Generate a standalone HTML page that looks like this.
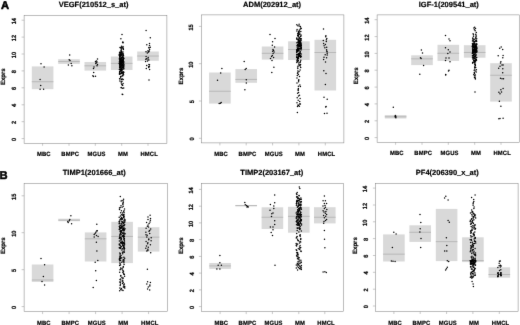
<!DOCTYPE html>
<html><head><meta charset="utf-8"><title>Figure</title>
<style>html,body{margin:0;padding:0;background:#fff;overflow:hidden}body{width:520px;height:325px;font-family:"Liberation Sans",sans-serif}</style></head>
<body>
<svg width="520" height="325" viewBox="0 0 520 325" style="display:block">
<rect width="520" height="325" fill="#fff"/>
<defs><filter id="bl" color-interpolation-filters="sRGB" x="-2%" y="-2%" width="104%" height="104%"><feConvolveMatrix order="3" kernelMatrix="0.0049 0.0602 0.0049 0.0602 0.7396 0.0602 0.0049 0.0602 0.0049" edgeMode="duplicate" preserveAlpha="false"/></filter></defs>
<g filter="url(#bl)" font-family="Liberation Sans, sans-serif" font-weight="bold" text-rendering="geometricPrecision" fill="#000" stroke="#000" stroke-width="0.18">
<rect x="31.8" y="66.4" width="21.6" height="22.8" fill="#d9d9d9" stroke="none"/>
<rect x="31.8" y="81.30" width="21.6" height="0.9" fill="#b4b4b4" stroke="none"/>
<rect x="58.2" y="59.2" width="21.6" height="4.7" fill="#d9d9d9" stroke="none"/>
<rect x="58.2" y="61.16" width="21.6" height="0.9" fill="#b4b4b4" stroke="none"/>
<rect x="84.5" y="62.0" width="21.6" height="8.6" fill="#d9d9d9" stroke="none"/>
<rect x="84.5" y="65.39" width="21.6" height="0.9" fill="#b4b4b4" stroke="none"/>
<rect x="110.9" y="56.5" width="21.6" height="13.5" fill="#d9d9d9" stroke="none"/>
<rect x="110.9" y="62.86" width="21.6" height="0.9" fill="#b4b4b4" stroke="none"/>
<rect x="137.2" y="51.5" width="21.6" height="9.3" fill="#d9d9d9" stroke="none"/>
<rect x="137.2" y="55.58" width="21.6" height="0.9" fill="#b4b4b4" stroke="none"/>
<rect x="24.1" y="15.6" width="142.8" height="127.7" fill="none" stroke="#7c7c7c" stroke-width="0.5"/>
<line x1="21.6" y1="138.6" x2="24.1" y2="138.6" stroke="#909090" stroke-width="0.5"/>
<text transform="translate(16.4,139.3) rotate(-90) scale(0.92,1)" text-anchor="middle" font-size="6.2">0</text>
<line x1="21.6" y1="121.7" x2="24.1" y2="121.7" stroke="#909090" stroke-width="0.5"/>
<text transform="translate(16.4,122.4) rotate(-90) scale(0.92,1)" text-anchor="middle" font-size="6.2">2</text>
<line x1="21.6" y1="104.8" x2="24.1" y2="104.8" stroke="#909090" stroke-width="0.5"/>
<text transform="translate(16.4,105.5) rotate(-90) scale(0.92,1)" text-anchor="middle" font-size="6.2">4</text>
<line x1="21.6" y1="87.8" x2="24.1" y2="87.8" stroke="#909090" stroke-width="0.5"/>
<text transform="translate(16.4,88.5) rotate(-90) scale(0.92,1)" text-anchor="middle" font-size="6.2">6</text>
<line x1="21.6" y1="70.9" x2="24.1" y2="70.9" stroke="#909090" stroke-width="0.5"/>
<text transform="translate(16.4,71.6) rotate(-90) scale(0.92,1)" text-anchor="middle" font-size="6.2">8</text>
<line x1="21.6" y1="54.0" x2="24.1" y2="54.0" stroke="#909090" stroke-width="0.5"/>
<text transform="translate(15.8,55.0) rotate(-90) scale(0.92,1)" text-anchor="middle" font-size="6.2">10</text>
<line x1="21.6" y1="37.1" x2="24.1" y2="37.1" stroke="#909090" stroke-width="0.5"/>
<text transform="translate(15.8,38.1) rotate(-90) scale(0.92,1)" text-anchor="middle" font-size="6.2">12</text>
<line x1="21.6" y1="20.2" x2="24.1" y2="20.2" stroke="#909090" stroke-width="0.5"/>
<text transform="translate(15.8,21.2) rotate(-90) scale(0.92,1)" text-anchor="middle" font-size="6.2">14</text>
<line x1="42.6" y1="143.3" x2="42.6" y2="145.8" stroke="#909090" stroke-width="0.5"/>
<text transform="translate(43.8,155.7) scale(0.95,1)" text-anchor="middle" font-size="6.2" letter-spacing="0.1">MBC</text>
<line x1="69.0" y1="143.3" x2="69.0" y2="145.8" stroke="#909090" stroke-width="0.5"/>
<text transform="translate(70.2,155.7) scale(0.95,1)" text-anchor="middle" font-size="6.2" letter-spacing="0.1">BMPC</text>
<line x1="95.3" y1="143.3" x2="95.3" y2="145.8" stroke="#909090" stroke-width="0.5"/>
<text transform="translate(96.5,155.7) scale(0.95,1)" text-anchor="middle" font-size="6.2" letter-spacing="0.1">MGUS</text>
<line x1="121.7" y1="143.3" x2="121.7" y2="145.8" stroke="#909090" stroke-width="0.5"/>
<text transform="translate(122.9,155.7) scale(0.95,1)" text-anchor="middle" font-size="6.2" letter-spacing="0.1">MM</text>
<line x1="148.0" y1="143.3" x2="148.0" y2="145.8" stroke="#909090" stroke-width="0.5"/>
<text transform="translate(149.2,155.7) scale(0.95,1)" text-anchor="middle" font-size="6.2" letter-spacing="0.1">HMCL</text>
<text transform="translate(5.3,76.7) rotate(-90) scale(0.98,1)" text-anchor="middle" font-size="6.2">Exprs</text>
<text x="93.6" y="6.8" text-anchor="middle" font-size="7.5" fill="#000">VEGF(210512_s_at)</text>
<g fill="#000" stroke="none"><circle cx="41.0" cy="63.8" r="0.74"/><circle cx="44.1" cy="67.1" r="0.74"/><circle cx="40.1" cy="79.5" r="0.74"/><circle cx="40.7" cy="85.5" r="0.74"/><circle cx="40.1" cy="89.2" r="0.74"/><circle cx="43.6" cy="89.2" r="0.74"/><circle cx="69.7" cy="54.9" r="0.74"/><circle cx="69.2" cy="59.7" r="0.74"/><circle cx="70.0" cy="60.5" r="0.74"/><circle cx="71.2" cy="63.5" r="0.74"/><circle cx="68.4" cy="65.1" r="0.74"/><circle cx="71.9" cy="65.8" r="0.74"/><circle cx="97.5" cy="58.9" r="0.74"/><circle cx="95.5" cy="61.5" r="0.74"/><circle cx="97.0" cy="62.0" r="0.74"/><circle cx="96.2" cy="62.8" r="0.74"/><circle cx="97.5" cy="64.6" r="0.74"/><circle cx="97.0" cy="65.8" r="0.74"/><circle cx="94.0" cy="66.9" r="0.74"/><circle cx="93.5" cy="68.5" r="0.74"/><circle cx="93.7" cy="72.6" r="0.74"/><circle cx="92.9" cy="75.7" r="0.74"/><circle cx="93.5" cy="76.6" r="0.74"/><circle cx="95.5" cy="76.2" r="0.74"/><circle cx="96.5" cy="61.0" r="0.74"/><circle cx="95.8" cy="63.5" r="0.74"/><circle cx="122.3" cy="66.0" r="0.74"/><circle cx="119.7" cy="57.9" r="0.74"/><circle cx="119.6" cy="73.1" r="0.74"/><circle cx="121.7" cy="65.6" r="0.74"/><circle cx="119.7" cy="52.3" r="0.74"/><circle cx="119.8" cy="60.7" r="0.74"/><circle cx="119.9" cy="80.9" r="0.74"/><circle cx="120.4" cy="54.3" r="0.74"/><circle cx="122.0" cy="81.2" r="0.74"/><circle cx="121.2" cy="81.7" r="0.74"/><circle cx="123.3" cy="60.1" r="0.74"/><circle cx="120.7" cy="63.8" r="0.74"/><circle cx="120.8" cy="60.0" r="0.74"/><circle cx="123.1" cy="59.1" r="0.74"/><circle cx="122.3" cy="57.4" r="0.74"/><circle cx="121.1" cy="50.6" r="0.74"/><circle cx="119.6" cy="66.9" r="0.74"/><circle cx="120.3" cy="64.4" r="0.74"/><circle cx="120.8" cy="68.0" r="0.74"/><circle cx="122.0" cy="73.4" r="0.74"/><circle cx="123.0" cy="71.9" r="0.74"/><circle cx="122.6" cy="60.7" r="0.74"/><circle cx="121.8" cy="62.8" r="0.74"/><circle cx="123.4" cy="49.5" r="0.74"/><circle cx="123.9" cy="64.4" r="0.74"/><circle cx="119.9" cy="71.9" r="0.74"/><circle cx="120.0" cy="78.8" r="0.74"/><circle cx="121.6" cy="54.6" r="0.74"/><circle cx="122.9" cy="48.1" r="0.74"/><circle cx="122.0" cy="59.5" r="0.74"/><circle cx="122.5" cy="56.8" r="0.74"/><circle cx="122.1" cy="69.8" r="0.74"/><circle cx="123.2" cy="73.5" r="0.74"/><circle cx="123.7" cy="68.9" r="0.74"/><circle cx="119.6" cy="78.7" r="0.74"/><circle cx="122.6" cy="60.8" r="0.74"/><circle cx="123.1" cy="83.4" r="0.74"/><circle cx="122.4" cy="65.6" r="0.74"/><circle cx="119.5" cy="53.1" r="0.74"/><circle cx="119.9" cy="69.5" r="0.74"/><circle cx="119.6" cy="61.8" r="0.74"/><circle cx="120.5" cy="62.7" r="0.74"/><circle cx="121.1" cy="68.8" r="0.74"/><circle cx="121.4" cy="60.3" r="0.74"/><circle cx="121.9" cy="66.4" r="0.74"/><circle cx="123.3" cy="48.8" r="0.74"/><circle cx="120.6" cy="76.4" r="0.74"/><circle cx="123.4" cy="71.9" r="0.74"/><circle cx="123.8" cy="58.2" r="0.74"/><circle cx="120.4" cy="59.5" r="0.74"/><circle cx="120.4" cy="58.0" r="0.74"/><circle cx="120.6" cy="77.3" r="0.74"/><circle cx="119.4" cy="62.0" r="0.74"/><circle cx="122.0" cy="72.2" r="0.74"/><circle cx="123.7" cy="58.4" r="0.74"/><circle cx="122.2" cy="68.0" r="0.74"/><circle cx="122.5" cy="75.2" r="0.74"/><circle cx="122.9" cy="41.9" r="0.74"/><circle cx="123.4" cy="55.8" r="0.74"/><circle cx="121.2" cy="60.2" r="0.74"/><circle cx="119.8" cy="73.4" r="0.74"/><circle cx="119.7" cy="65.8" r="0.74"/><circle cx="120.3" cy="66.1" r="0.74"/><circle cx="119.6" cy="58.3" r="0.74"/><circle cx="119.4" cy="55.1" r="0.74"/><circle cx="121.0" cy="60.5" r="0.74"/><circle cx="119.5" cy="59.3" r="0.74"/><circle cx="120.0" cy="53.0" r="0.74"/><circle cx="120.5" cy="73.7" r="0.74"/><circle cx="119.9" cy="69.1" r="0.74"/><circle cx="123.3" cy="55.1" r="0.74"/><circle cx="121.6" cy="51.5" r="0.74"/><circle cx="119.7" cy="63.8" r="0.74"/><circle cx="120.6" cy="55.5" r="0.74"/><circle cx="123.2" cy="57.5" r="0.74"/><circle cx="123.7" cy="62.1" r="0.74"/><circle cx="121.8" cy="61.4" r="0.74"/><circle cx="119.5" cy="55.3" r="0.74"/><circle cx="121.8" cy="52.8" r="0.74"/><circle cx="122.6" cy="42.4" r="0.74"/><circle cx="120.6" cy="66.1" r="0.74"/><circle cx="122.9" cy="67.6" r="0.74"/><circle cx="121.8" cy="58.6" r="0.74"/><circle cx="120.4" cy="61.6" r="0.74"/><circle cx="123.1" cy="72.6" r="0.74"/><circle cx="123.1" cy="42.7" r="0.74"/><circle cx="123.1" cy="65.3" r="0.74"/><circle cx="121.7" cy="63.8" r="0.74"/><circle cx="121.0" cy="70.9" r="0.74"/><circle cx="120.6" cy="60.8" r="0.74"/><circle cx="120.5" cy="62.9" r="0.74"/><circle cx="121.4" cy="72.7" r="0.74"/><circle cx="123.7" cy="88.1" r="0.74"/><circle cx="121.0" cy="65.3" r="0.74"/><circle cx="120.3" cy="61.9" r="0.74"/><circle cx="120.3" cy="55.9" r="0.74"/><circle cx="123.2" cy="79.5" r="0.74"/><circle cx="121.6" cy="79.3" r="0.74"/><circle cx="119.7" cy="74.2" r="0.74"/><circle cx="122.4" cy="78.9" r="0.74"/><circle cx="122.8" cy="47.7" r="0.74"/><circle cx="121.5" cy="73.2" r="0.74"/><circle cx="120.9" cy="55.2" r="0.74"/><circle cx="123.0" cy="46.5" r="0.74"/><circle cx="121.2" cy="52.9" r="0.74"/><circle cx="123.7" cy="65.2" r="0.74"/><circle cx="119.9" cy="64.3" r="0.74"/><circle cx="120.0" cy="69.7" r="0.74"/><circle cx="120.0" cy="47.5" r="0.74"/><circle cx="123.2" cy="74.1" r="0.74"/><circle cx="121.0" cy="47.9" r="0.74"/><circle cx="121.9" cy="65.2" r="0.74"/><circle cx="123.8" cy="62.1" r="0.74"/><circle cx="122.3" cy="62.0" r="0.74"/><circle cx="121.3" cy="87.6" r="0.74"/><circle cx="123.4" cy="67.4" r="0.74"/><circle cx="120.5" cy="60.0" r="0.74"/><circle cx="120.7" cy="69.8" r="0.74"/><circle cx="120.5" cy="62.5" r="0.74"/><circle cx="121.3" cy="49.3" r="0.74"/><circle cx="121.0" cy="47.5" r="0.74"/><circle cx="121.5" cy="46.3" r="0.74"/><circle cx="121.3" cy="83.1" r="0.74"/><circle cx="123.6" cy="74.8" r="0.74"/><circle cx="121.8" cy="76.3" r="0.74"/><circle cx="119.4" cy="63.4" r="0.74"/><circle cx="119.4" cy="69.6" r="0.74"/><circle cx="123.0" cy="60.8" r="0.74"/><circle cx="122.7" cy="57.7" r="0.74"/><circle cx="121.9" cy="52.7" r="0.74"/><circle cx="121.9" cy="69.2" r="0.74"/><circle cx="123.0" cy="52.0" r="0.74"/><circle cx="120.5" cy="52.7" r="0.74"/><circle cx="120.6" cy="54.9" r="0.74"/><circle cx="121.9" cy="61.6" r="0.74"/><circle cx="122.8" cy="75.8" r="0.74"/><circle cx="122.2" cy="53.5" r="0.74"/><circle cx="121.7" cy="69.3" r="0.74"/><circle cx="121.4" cy="79.5" r="0.74"/><circle cx="121.8" cy="64.5" r="0.74"/><circle cx="122.6" cy="88.3" r="0.74"/><circle cx="123.4" cy="59.8" r="0.74"/><circle cx="121.9" cy="55.6" r="0.74"/><circle cx="123.7" cy="66.2" r="0.74"/><circle cx="119.9" cy="60.2" r="0.74"/><circle cx="121.4" cy="68.2" r="0.74"/><circle cx="119.7" cy="56.3" r="0.74"/><circle cx="122.4" cy="59.9" r="0.74"/><circle cx="120.1" cy="58.5" r="0.74"/><circle cx="122.6" cy="85.3" r="0.74"/><circle cx="123.4" cy="66.4" r="0.74"/><circle cx="123.8" cy="68.3" r="0.74"/><circle cx="121.2" cy="58.3" r="0.74"/><circle cx="123.2" cy="60.7" r="0.74"/><circle cx="121.7" cy="57.4" r="0.74"/><circle cx="120.9" cy="53.8" r="0.74"/><circle cx="122.7" cy="60.2" r="0.74"/><circle cx="119.4" cy="54.6" r="0.74"/><circle cx="119.4" cy="74.1" r="0.74"/><circle cx="120.9" cy="67.1" r="0.74"/><circle cx="119.6" cy="72.3" r="0.74"/><circle cx="123.9" cy="72.2" r="0.74"/><circle cx="119.8" cy="56.6" r="0.74"/><circle cx="122.9" cy="63.6" r="0.74"/><circle cx="120.6" cy="60.3" r="0.74"/><circle cx="123.5" cy="55.7" r="0.74"/><circle cx="123.1" cy="55.3" r="0.74"/><circle cx="123.6" cy="63.6" r="0.74"/><circle cx="122.0" cy="57.3" r="0.74"/><circle cx="119.6" cy="64.7" r="0.74"/><circle cx="122.5" cy="67.7" r="0.74"/><circle cx="123.7" cy="67.0" r="0.74"/><circle cx="122.3" cy="61.5" r="0.74"/><circle cx="123.3" cy="61.9" r="0.74"/><circle cx="119.7" cy="67.5" r="0.74"/><circle cx="120.9" cy="55.7" r="0.74"/><circle cx="121.9" cy="72.1" r="0.74"/><circle cx="119.9" cy="55.8" r="0.74"/><circle cx="121.8" cy="67.0" r="0.74"/><circle cx="120.1" cy="62.9" r="0.74"/><circle cx="119.6" cy="58.2" r="0.74"/><circle cx="120.8" cy="60.6" r="0.74"/><circle cx="122.8" cy="54.6" r="0.74"/><circle cx="120.2" cy="66.4" r="0.74"/><circle cx="120.9" cy="51.2" r="0.74"/><circle cx="119.4" cy="55.3" r="0.74"/><circle cx="122.7" cy="62.4" r="0.74"/><circle cx="121.5" cy="69.8" r="0.74"/><circle cx="123.6" cy="65.5" r="0.74"/><circle cx="121.3" cy="48.0" r="0.74"/><circle cx="121.6" cy="51.2" r="0.74"/><circle cx="121.7" cy="57.9" r="0.74"/><circle cx="122.5" cy="72.4" r="0.74"/><circle cx="123.2" cy="53.7" r="0.74"/><circle cx="122.6" cy="64.4" r="0.74"/><circle cx="120.9" cy="70.4" r="0.74"/><circle cx="119.6" cy="71.4" r="0.74"/><circle cx="122.8" cy="60.5" r="0.74"/><circle cx="120.5" cy="60.4" r="0.74"/><circle cx="123.2" cy="61.0" r="0.74"/><circle cx="123.4" cy="59.5" r="0.74"/><circle cx="120.5" cy="67.4" r="0.74"/><circle cx="120.7" cy="70.9" r="0.74"/><circle cx="121.4" cy="69.3" r="0.74"/><circle cx="120.6" cy="61.7" r="0.74"/><circle cx="121.9" cy="70.1" r="0.74"/><circle cx="120.8" cy="62.3" r="0.74"/><circle cx="121.1" cy="63.6" r="0.74"/><circle cx="121.5" cy="62.9" r="0.74"/><circle cx="121.7" cy="70.4" r="0.74"/><circle cx="119.4" cy="63.4" r="0.74"/><circle cx="121.2" cy="63.7" r="0.74"/><circle cx="119.5" cy="58.7" r="0.74"/><circle cx="120.4" cy="54.4" r="0.74"/><circle cx="122.0" cy="62.0" r="0.74"/><circle cx="122.0" cy="34.5" r="0.74"/><circle cx="120.9" cy="38.8" r="0.74"/><circle cx="122.7" cy="94.6" r="0.74"/><circle cx="122.2" cy="94.2" r="0.74"/><circle cx="121.2" cy="87.8" r="0.74"/><circle cx="122.5" cy="85.3" r="0.74"/><circle cx="121.8" cy="84.5" r="0.74"/><circle cx="146.1" cy="30.4" r="0.74"/><circle cx="150.3" cy="37.8" r="0.74"/><circle cx="149.5" cy="43.5" r="0.74"/><circle cx="150.3" cy="47.3" r="0.74"/><circle cx="149.0" cy="80.0" r="0.74"/><circle cx="149.5" cy="45.5" r="0.74"/><circle cx="148.8" cy="60.0" r="0.74"/><circle cx="147.5" cy="61.1" r="0.74"/><circle cx="146.3" cy="68.6" r="0.74"/><circle cx="145.8" cy="59.3" r="0.74"/><circle cx="149.6" cy="69.4" r="0.74"/><circle cx="149.1" cy="48.1" r="0.74"/><circle cx="149.5" cy="64.8" r="0.74"/><circle cx="148.0" cy="50.8" r="0.74"/><circle cx="149.6" cy="49.5" r="0.74"/><circle cx="148.4" cy="52.1" r="0.74"/><circle cx="148.9" cy="47.4" r="0.74"/><circle cx="146.7" cy="65.4" r="0.74"/><circle cx="147.3" cy="52.9" r="0.74"/><circle cx="146.1" cy="56.5" r="0.74"/><circle cx="148.6" cy="51.8" r="0.74"/><circle cx="148.6" cy="66.7" r="0.74"/><circle cx="145.6" cy="61.5" r="0.74"/><circle cx="149.4" cy="66.3" r="0.74"/><circle cx="148.2" cy="57.5" r="0.74"/><circle cx="148.8" cy="67.4" r="0.74"/><circle cx="146.8" cy="44.7" r="0.74"/><circle cx="146.0" cy="51.8" r="0.74"/><circle cx="146.6" cy="58.7" r="0.74"/><circle cx="148.0" cy="58.9" r="0.74"/><circle cx="148.9" cy="64.5" r="0.74"/><circle cx="149.3" cy="50.9" r="0.74"/></g>
<rect x="209.1" y="72.5" width="21.6" height="31.1" fill="#d9d9d9" stroke="none"/>
<rect x="209.1" y="90.78" width="21.6" height="0.9" fill="#b4b4b4" stroke="none"/>
<rect x="235.4" y="69.1" width="21.6" height="13.7" fill="#d9d9d9" stroke="none"/>
<rect x="235.4" y="78.92" width="21.6" height="0.9" fill="#b4b4b4" stroke="none"/>
<rect x="261.8" y="46.5" width="21.6" height="13.1" fill="#d9d9d9" stroke="none"/>
<rect x="261.8" y="52.81" width="21.6" height="0.9" fill="#b4b4b4" stroke="none"/>
<rect x="288.1" y="41.3" width="21.6" height="18.7" fill="#d9d9d9" stroke="none"/>
<rect x="288.1" y="49.08" width="21.6" height="0.9" fill="#b4b4b4" stroke="none"/>
<rect x="314.5" y="39.8" width="21.6" height="50.7" fill="#d9d9d9" stroke="none"/>
<rect x="314.5" y="52.06" width="21.6" height="0.9" fill="#b4b4b4" stroke="none"/>
<rect x="201.4" y="14.9" width="142.5" height="128.0" fill="none" stroke="#7c7c7c" stroke-width="0.5"/>
<line x1="198.9" y1="138.3" x2="201.4" y2="138.3" stroke="#909090" stroke-width="0.5"/>
<text transform="translate(193.7,139.0) rotate(-90) scale(0.92,1)" text-anchor="middle" font-size="6.2">0</text>
<line x1="198.9" y1="101.0" x2="201.4" y2="101.0" stroke="#909090" stroke-width="0.5"/>
<text transform="translate(193.7,101.7) rotate(-90) scale(0.92,1)" text-anchor="middle" font-size="6.2">5</text>
<line x1="198.9" y1="63.7" x2="201.4" y2="63.7" stroke="#909090" stroke-width="0.5"/>
<text transform="translate(193.1,64.7) rotate(-90) scale(0.92,1)" text-anchor="middle" font-size="6.2">10</text>
<line x1="198.9" y1="26.4" x2="201.4" y2="26.4" stroke="#909090" stroke-width="0.5"/>
<text transform="translate(193.1,27.4) rotate(-90) scale(0.92,1)" text-anchor="middle" font-size="6.2">15</text>
<line x1="219.9" y1="142.9" x2="219.9" y2="145.4" stroke="#909090" stroke-width="0.5"/>
<text transform="translate(221.1,155.7) scale(0.95,1)" text-anchor="middle" font-size="6.2" letter-spacing="0.1">MBC</text>
<line x1="246.2" y1="142.9" x2="246.2" y2="145.4" stroke="#909090" stroke-width="0.5"/>
<text transform="translate(247.4,155.7) scale(0.95,1)" text-anchor="middle" font-size="6.2" letter-spacing="0.1">BMPC</text>
<line x1="272.6" y1="142.9" x2="272.6" y2="145.4" stroke="#909090" stroke-width="0.5"/>
<text transform="translate(273.8,155.7) scale(0.95,1)" text-anchor="middle" font-size="6.2" letter-spacing="0.1">MGUS</text>
<line x1="298.9" y1="142.9" x2="298.9" y2="145.4" stroke="#909090" stroke-width="0.5"/>
<text transform="translate(300.1,155.7) scale(0.95,1)" text-anchor="middle" font-size="6.2" letter-spacing="0.1">MM</text>
<line x1="325.3" y1="142.9" x2="325.3" y2="145.4" stroke="#909090" stroke-width="0.5"/>
<text transform="translate(326.5,155.7) scale(0.95,1)" text-anchor="middle" font-size="6.2" letter-spacing="0.1">HMCL</text>
<text transform="translate(182.6,76.1) rotate(-90) scale(0.98,1)" text-anchor="middle" font-size="6.2">Exprs</text>
<text x="272.1" y="6.8" text-anchor="middle" font-size="7.5" fill="#000">ADM(202912_at)</text>
<g fill="#000" stroke="none"><circle cx="221.9" cy="68.5" r="0.74"/><circle cx="220.7" cy="72.9" r="0.74"/><circle cx="217.5" cy="80.3" r="0.74"/><circle cx="219.2" cy="103.6" r="0.74"/><circle cx="221.2" cy="102.6" r="0.74"/><circle cx="220.4" cy="103.2" r="0.74"/><circle cx="244.2" cy="61.6" r="0.74"/><circle cx="246.2" cy="68.5" r="0.74"/><circle cx="245.2" cy="69.4" r="0.74"/><circle cx="246.3" cy="79.8" r="0.74"/><circle cx="246.3" cy="82.9" r="0.74"/><circle cx="244.9" cy="89.7" r="0.74"/><circle cx="270.0" cy="34.5" r="0.74"/><circle cx="275.0" cy="38.6" r="0.74"/><circle cx="272.6" cy="41.7" r="0.74"/><circle cx="272.3" cy="45.2" r="0.74"/><circle cx="274.6" cy="47.0" r="0.74"/><circle cx="273.0" cy="49.5" r="0.74"/><circle cx="273.6" cy="50.5" r="0.74"/><circle cx="272.6" cy="51.3" r="0.74"/><circle cx="274.1" cy="52.0" r="0.74"/><circle cx="272.3" cy="55.5" r="0.74"/><circle cx="270.5" cy="58.6" r="0.74"/><circle cx="273.6" cy="57.4" r="0.74"/><circle cx="272.0" cy="60.6" r="0.74"/><circle cx="273.9" cy="67.3" r="0.74"/><circle cx="271.8" cy="72.4" r="0.74"/><circle cx="273.1" cy="53.5" r="0.74"/><circle cx="271.6" cy="56.5" r="0.74"/><circle cx="297.0" cy="60.7" r="0.74"/><circle cx="297.3" cy="59.5" r="0.74"/><circle cx="298.1" cy="49.2" r="0.74"/><circle cx="299.3" cy="30.3" r="0.74"/><circle cx="297.9" cy="44.8" r="0.74"/><circle cx="299.7" cy="48.5" r="0.74"/><circle cx="298.0" cy="54.7" r="0.74"/><circle cx="299.0" cy="64.5" r="0.74"/><circle cx="297.2" cy="61.0" r="0.74"/><circle cx="300.8" cy="46.0" r="0.74"/><circle cx="301.0" cy="39.1" r="0.74"/><circle cx="300.4" cy="36.5" r="0.74"/><circle cx="301.1" cy="47.4" r="0.74"/><circle cx="297.6" cy="57.2" r="0.74"/><circle cx="301.0" cy="46.0" r="0.74"/><circle cx="297.3" cy="45.2" r="0.74"/><circle cx="299.1" cy="34.5" r="0.74"/><circle cx="300.4" cy="43.1" r="0.74"/><circle cx="299.0" cy="50.5" r="0.74"/><circle cx="297.7" cy="35.6" r="0.74"/><circle cx="300.8" cy="60.2" r="0.74"/><circle cx="296.7" cy="51.3" r="0.74"/><circle cx="298.9" cy="48.6" r="0.74"/><circle cx="297.3" cy="57.8" r="0.74"/><circle cx="298.2" cy="45.9" r="0.74"/><circle cx="296.7" cy="57.4" r="0.74"/><circle cx="300.1" cy="29.2" r="0.74"/><circle cx="300.9" cy="45.8" r="0.74"/><circle cx="299.9" cy="53.6" r="0.74"/><circle cx="298.4" cy="41.2" r="0.74"/><circle cx="298.5" cy="54.1" r="0.74"/><circle cx="298.3" cy="33.9" r="0.74"/><circle cx="298.6" cy="48.9" r="0.74"/><circle cx="297.1" cy="49.3" r="0.74"/><circle cx="300.5" cy="45.3" r="0.74"/><circle cx="297.8" cy="54.6" r="0.74"/><circle cx="297.5" cy="50.1" r="0.74"/><circle cx="298.4" cy="35.5" r="0.74"/><circle cx="300.4" cy="26.4" r="0.74"/><circle cx="299.6" cy="55.1" r="0.74"/><circle cx="299.2" cy="26.0" r="0.74"/><circle cx="300.0" cy="62.5" r="0.74"/><circle cx="298.7" cy="31.5" r="0.74"/><circle cx="300.1" cy="43.2" r="0.74"/><circle cx="296.9" cy="54.4" r="0.74"/><circle cx="300.9" cy="56.0" r="0.74"/><circle cx="298.2" cy="40.0" r="0.74"/><circle cx="298.0" cy="39.7" r="0.74"/><circle cx="297.8" cy="50.9" r="0.74"/><circle cx="299.2" cy="54.1" r="0.74"/><circle cx="298.5" cy="56.6" r="0.74"/><circle cx="297.6" cy="45.5" r="0.74"/><circle cx="300.8" cy="43.0" r="0.74"/><circle cx="300.8" cy="56.7" r="0.74"/><circle cx="301.2" cy="48.6" r="0.74"/><circle cx="297.5" cy="54.6" r="0.74"/><circle cx="297.1" cy="46.9" r="0.74"/><circle cx="297.7" cy="51.5" r="0.74"/><circle cx="297.8" cy="44.7" r="0.74"/><circle cx="300.1" cy="70.0" r="0.74"/><circle cx="298.5" cy="58.7" r="0.74"/><circle cx="298.4" cy="60.5" r="0.74"/><circle cx="298.2" cy="41.8" r="0.74"/><circle cx="301.1" cy="40.4" r="0.74"/><circle cx="297.2" cy="45.4" r="0.74"/><circle cx="300.6" cy="64.5" r="0.74"/><circle cx="297.6" cy="49.1" r="0.74"/><circle cx="298.5" cy="49.9" r="0.74"/><circle cx="298.7" cy="40.4" r="0.74"/><circle cx="300.7" cy="27.9" r="0.74"/><circle cx="296.8" cy="55.0" r="0.74"/><circle cx="300.8" cy="31.5" r="0.74"/><circle cx="298.8" cy="45.2" r="0.74"/><circle cx="298.5" cy="49.0" r="0.74"/><circle cx="300.9" cy="48.9" r="0.74"/><circle cx="301.1" cy="38.7" r="0.74"/><circle cx="297.8" cy="68.4" r="0.74"/><circle cx="299.1" cy="43.8" r="0.74"/><circle cx="299.8" cy="44.7" r="0.74"/><circle cx="299.6" cy="32.1" r="0.74"/><circle cx="300.2" cy="55.2" r="0.74"/><circle cx="296.8" cy="62.4" r="0.74"/><circle cx="300.2" cy="45.0" r="0.74"/><circle cx="299.6" cy="46.0" r="0.74"/><circle cx="297.8" cy="50.7" r="0.74"/><circle cx="299.6" cy="43.3" r="0.74"/><circle cx="297.0" cy="50.5" r="0.74"/><circle cx="299.1" cy="54.0" r="0.74"/><circle cx="297.7" cy="58.4" r="0.74"/><circle cx="299.4" cy="54.3" r="0.74"/><circle cx="298.8" cy="39.3" r="0.74"/><circle cx="301.1" cy="48.2" r="0.74"/><circle cx="298.8" cy="63.1" r="0.74"/><circle cx="297.7" cy="67.1" r="0.74"/><circle cx="299.9" cy="48.3" r="0.74"/><circle cx="298.9" cy="49.6" r="0.74"/><circle cx="299.8" cy="46.6" r="0.74"/><circle cx="299.7" cy="56.3" r="0.74"/><circle cx="300.9" cy="44.6" r="0.74"/><circle cx="298.2" cy="48.4" r="0.74"/><circle cx="298.6" cy="45.9" r="0.74"/><circle cx="300.3" cy="51.8" r="0.74"/><circle cx="300.0" cy="55.6" r="0.74"/><circle cx="301.1" cy="56.4" r="0.74"/><circle cx="298.1" cy="49.0" r="0.74"/><circle cx="297.7" cy="45.3" r="0.74"/><circle cx="300.1" cy="56.1" r="0.74"/><circle cx="298.9" cy="56.5" r="0.74"/><circle cx="298.6" cy="45.7" r="0.74"/><circle cx="299.7" cy="41.4" r="0.74"/><circle cx="298.5" cy="42.8" r="0.74"/><circle cx="297.6" cy="50.8" r="0.74"/><circle cx="296.9" cy="42.7" r="0.74"/><circle cx="296.9" cy="49.8" r="0.74"/><circle cx="300.7" cy="67.5" r="0.74"/><circle cx="300.0" cy="33.9" r="0.74"/><circle cx="298.2" cy="49.2" r="0.74"/><circle cx="300.1" cy="38.4" r="0.74"/><circle cx="296.8" cy="24.7" r="0.74"/><circle cx="298.4" cy="54.4" r="0.74"/><circle cx="298.2" cy="58.2" r="0.74"/><circle cx="297.9" cy="48.4" r="0.74"/><circle cx="298.3" cy="48.0" r="0.74"/><circle cx="301.1" cy="43.3" r="0.74"/><circle cx="297.6" cy="50.4" r="0.74"/><circle cx="300.4" cy="61.7" r="0.74"/><circle cx="298.6" cy="32.5" r="0.74"/><circle cx="298.4" cy="36.7" r="0.74"/><circle cx="300.9" cy="44.9" r="0.74"/><circle cx="300.8" cy="45.0" r="0.74"/><circle cx="296.8" cy="38.8" r="0.74"/><circle cx="300.2" cy="66.1" r="0.74"/><circle cx="296.8" cy="37.9" r="0.74"/><circle cx="300.9" cy="44.9" r="0.74"/><circle cx="297.8" cy="47.9" r="0.74"/><circle cx="298.2" cy="49.2" r="0.74"/><circle cx="297.9" cy="72.7" r="0.74"/><circle cx="297.9" cy="33.8" r="0.74"/><circle cx="299.9" cy="52.9" r="0.74"/><circle cx="296.7" cy="52.4" r="0.74"/><circle cx="300.1" cy="40.6" r="0.74"/><circle cx="301.0" cy="35.1" r="0.74"/><circle cx="296.8" cy="56.7" r="0.74"/><circle cx="301.1" cy="47.5" r="0.74"/><circle cx="301.0" cy="36.1" r="0.74"/><circle cx="298.6" cy="55.2" r="0.74"/><circle cx="298.9" cy="43.2" r="0.74"/><circle cx="300.3" cy="42.4" r="0.74"/><circle cx="300.0" cy="51.9" r="0.74"/><circle cx="299.4" cy="40.3" r="0.74"/><circle cx="298.2" cy="66.1" r="0.74"/><circle cx="300.2" cy="53.3" r="0.74"/><circle cx="297.0" cy="39.2" r="0.74"/><circle cx="297.8" cy="42.7" r="0.74"/><circle cx="296.9" cy="31.1" r="0.74"/><circle cx="298.1" cy="34.9" r="0.74"/><circle cx="301.2" cy="45.8" r="0.74"/><circle cx="297.9" cy="71.0" r="0.74"/><circle cx="298.9" cy="44.4" r="0.74"/><circle cx="299.9" cy="46.2" r="0.74"/><circle cx="298.6" cy="56.5" r="0.74"/><circle cx="299.5" cy="46.1" r="0.74"/><circle cx="300.5" cy="57.3" r="0.74"/><circle cx="299.7" cy="65.3" r="0.74"/><circle cx="298.0" cy="33.2" r="0.74"/><circle cx="299.3" cy="34.0" r="0.74"/><circle cx="297.6" cy="61.6" r="0.74"/><circle cx="297.8" cy="35.7" r="0.74"/><circle cx="300.7" cy="48.6" r="0.74"/><circle cx="299.3" cy="42.3" r="0.74"/><circle cx="301.2" cy="54.0" r="0.74"/><circle cx="299.0" cy="38.8" r="0.74"/><circle cx="299.7" cy="46.4" r="0.74"/><circle cx="301.2" cy="28.6" r="0.74"/><circle cx="300.4" cy="38.6" r="0.74"/><circle cx="300.5" cy="41.2" r="0.74"/><circle cx="298.0" cy="46.0" r="0.74"/><circle cx="297.2" cy="50.4" r="0.74"/><circle cx="299.3" cy="37.6" r="0.74"/><circle cx="300.6" cy="39.0" r="0.74"/><circle cx="298.7" cy="53.4" r="0.74"/><circle cx="301.0" cy="50.0" r="0.74"/><circle cx="297.1" cy="29.4" r="0.74"/><circle cx="297.7" cy="61.6" r="0.74"/><circle cx="298.3" cy="57.6" r="0.74"/><circle cx="297.5" cy="106.6" r="0.74"/><circle cx="298.0" cy="104.9" r="0.74"/><circle cx="299.6" cy="104.1" r="0.74"/><circle cx="297.0" cy="102.7" r="0.74"/><circle cx="299.7" cy="101.5" r="0.74"/><circle cx="298.2" cy="100.2" r="0.74"/><circle cx="300.1" cy="98.6" r="0.74"/><circle cx="297.2" cy="97.8" r="0.74"/><circle cx="298.5" cy="96.0" r="0.74"/><circle cx="299.5" cy="95.2" r="0.74"/><circle cx="297.6" cy="93.3" r="0.74"/><circle cx="298.6" cy="92.5" r="0.74"/><circle cx="298.2" cy="90.5" r="0.74"/><circle cx="298.2" cy="89.6" r="0.74"/><circle cx="298.4" cy="88.5" r="0.74"/><circle cx="300.4" cy="86.6" r="0.74"/><circle cx="298.4" cy="86.2" r="0.74"/><circle cx="299.9" cy="84.9" r="0.74"/><circle cx="297.0" cy="82.9" r="0.74"/><circle cx="298.6" cy="81.7" r="0.74"/><circle cx="298.6" cy="80.4" r="0.74"/><circle cx="298.8" cy="79.8" r="0.74"/><circle cx="297.0" cy="78.1" r="0.74"/><circle cx="299.5" cy="76.5" r="0.74"/><circle cx="297.3" cy="75.5" r="0.74"/><circle cx="298.4" cy="74.4" r="0.74"/><circle cx="297.5" cy="73.3" r="0.74"/><circle cx="299.0" cy="71.4" r="0.74"/><circle cx="297.4" cy="112.6" r="0.74"/><circle cx="299.4" cy="106.2" r="0.74"/><circle cx="298.4" cy="105.5" r="0.74"/><circle cx="300.4" cy="104.0" r="0.74"/><circle cx="299.1" cy="24.2" r="0.74"/><circle cx="297.9" cy="25.7" r="0.74"/><circle cx="323.5" cy="29.0" r="0.74"/><circle cx="323.8" cy="70.8" r="0.74"/><circle cx="326.0" cy="73.5" r="0.74"/><circle cx="325.4" cy="84.6" r="0.74"/><circle cx="324.0" cy="97.2" r="0.74"/><circle cx="327.2" cy="99.2" r="0.74"/><circle cx="325.7" cy="107.0" r="0.74"/><circle cx="324.5" cy="113.5" r="0.74"/><circle cx="327.0" cy="113.3" r="0.74"/><circle cx="326.1" cy="106.4" r="0.74"/><circle cx="325.5" cy="62.0" r="0.74"/><circle cx="323.6" cy="59.4" r="0.74"/><circle cx="326.6" cy="57.7" r="0.74"/><circle cx="324.0" cy="57.2" r="0.74"/><circle cx="327.2" cy="55.1" r="0.74"/><circle cx="325.2" cy="54.8" r="0.74"/><circle cx="327.2" cy="53.2" r="0.74"/><circle cx="327.1" cy="51.8" r="0.74"/><circle cx="326.7" cy="51.0" r="0.74"/><circle cx="326.6" cy="49.7" r="0.74"/><circle cx="324.9" cy="47.8" r="0.74"/><circle cx="326.7" cy="47.2" r="0.74"/><circle cx="324.1" cy="45.7" r="0.74"/><circle cx="325.4" cy="44.5" r="0.74"/><circle cx="323.6" cy="43.4" r="0.74"/><circle cx="326.3" cy="41.5" r="0.74"/><circle cx="323.3" cy="40.6" r="0.74"/><circle cx="326.4" cy="39.8" r="0.74"/><circle cx="326.8" cy="38.5" r="0.74"/><circle cx="325.7" cy="36.8" r="0.74"/><circle cx="325.9" cy="35.8" r="0.74"/></g>
<rect x="384.8" y="115.1" width="21.6" height="3.4" fill="#d9d9d9" stroke="none"/>
<rect x="384.8" y="116.35" width="21.6" height="0.9" fill="#b4b4b4" stroke="none"/>
<rect x="411.2" y="55.3" width="21.6" height="9.8" fill="#d9d9d9" stroke="none"/>
<rect x="411.2" y="58.42" width="21.6" height="0.9" fill="#b4b4b4" stroke="none"/>
<rect x="437.5" y="44.8" width="21.6" height="16.1" fill="#d9d9d9" stroke="none"/>
<rect x="437.5" y="52.78" width="21.6" height="0.9" fill="#b4b4b4" stroke="none"/>
<rect x="463.9" y="45.2" width="21.6" height="12.5" fill="#d9d9d9" stroke="none"/>
<rect x="463.9" y="51.94" width="21.6" height="0.9" fill="#b4b4b4" stroke="none"/>
<rect x="490.2" y="63.2" width="21.6" height="38.4" fill="#d9d9d9" stroke="none"/>
<rect x="490.2" y="74.76" width="21.6" height="0.9" fill="#b4b4b4" stroke="none"/>
<rect x="377.1" y="14.9" width="142.6" height="127.4" fill="none" stroke="#7c7c7c" stroke-width="0.5"/>
<line x1="374.6" y1="137.6" x2="377.1" y2="137.6" stroke="#909090" stroke-width="0.5"/>
<text transform="translate(369.4,138.3) rotate(-90) scale(0.92,1)" text-anchor="middle" font-size="6.2">0</text>
<line x1="374.6" y1="120.8" x2="377.1" y2="120.8" stroke="#909090" stroke-width="0.5"/>
<text transform="translate(369.4,121.5) rotate(-90) scale(0.92,1)" text-anchor="middle" font-size="6.2">2</text>
<line x1="374.6" y1="103.9" x2="377.1" y2="103.9" stroke="#909090" stroke-width="0.5"/>
<text transform="translate(369.4,104.6) rotate(-90) scale(0.92,1)" text-anchor="middle" font-size="6.2">4</text>
<line x1="374.6" y1="87.1" x2="377.1" y2="87.1" stroke="#909090" stroke-width="0.5"/>
<text transform="translate(369.4,87.8) rotate(-90) scale(0.92,1)" text-anchor="middle" font-size="6.2">6</text>
<line x1="374.6" y1="70.2" x2="377.1" y2="70.2" stroke="#909090" stroke-width="0.5"/>
<text transform="translate(369.4,70.9) rotate(-90) scale(0.92,1)" text-anchor="middle" font-size="6.2">8</text>
<line x1="374.6" y1="53.4" x2="377.1" y2="53.4" stroke="#909090" stroke-width="0.5"/>
<text transform="translate(368.8,54.4) rotate(-90) scale(0.92,1)" text-anchor="middle" font-size="6.2">10</text>
<line x1="374.6" y1="36.6" x2="377.1" y2="36.6" stroke="#909090" stroke-width="0.5"/>
<text transform="translate(368.8,37.6) rotate(-90) scale(0.92,1)" text-anchor="middle" font-size="6.2">12</text>
<line x1="374.6" y1="19.7" x2="377.1" y2="19.7" stroke="#909090" stroke-width="0.5"/>
<text transform="translate(368.8,20.7) rotate(-90) scale(0.92,1)" text-anchor="middle" font-size="6.2">14</text>
<line x1="395.6" y1="142.3" x2="395.6" y2="144.8" stroke="#909090" stroke-width="0.5"/>
<text transform="translate(396.8,155.3) scale(0.95,1)" text-anchor="middle" font-size="6.2" letter-spacing="0.1">MBC</text>
<line x1="422.0" y1="142.3" x2="422.0" y2="144.8" stroke="#909090" stroke-width="0.5"/>
<text transform="translate(423.2,155.3) scale(0.95,1)" text-anchor="middle" font-size="6.2" letter-spacing="0.1">BMPC</text>
<line x1="448.3" y1="142.3" x2="448.3" y2="144.8" stroke="#909090" stroke-width="0.5"/>
<text transform="translate(449.5,155.3) scale(0.95,1)" text-anchor="middle" font-size="6.2" letter-spacing="0.1">MGUS</text>
<line x1="474.7" y1="142.3" x2="474.7" y2="144.8" stroke="#909090" stroke-width="0.5"/>
<text transform="translate(475.9,155.3) scale(0.95,1)" text-anchor="middle" font-size="6.2" letter-spacing="0.1">MM</text>
<line x1="501.0" y1="142.3" x2="501.0" y2="144.8" stroke="#909090" stroke-width="0.5"/>
<text transform="translate(502.2,155.3) scale(0.95,1)" text-anchor="middle" font-size="6.2" letter-spacing="0.1">HMCL</text>
<text transform="translate(358.3,75.8) rotate(-90) scale(0.98,1)" text-anchor="middle" font-size="6.2">Exprs</text>
<text x="448.8" y="6.8" text-anchor="middle" font-size="7.5" fill="#000">IGF-1(209541_at)</text>
<g fill="#000" stroke="none"><circle cx="393.3" cy="107.2" r="0.74"/><circle cx="395.3" cy="115.5" r="0.74"/><circle cx="395.8" cy="116.3" r="0.74"/><circle cx="395.5" cy="117.0" r="0.74"/><circle cx="395.9" cy="117.8" r="0.74"/><circle cx="395.1" cy="116.8" r="0.74"/><circle cx="421.4" cy="50.0" r="0.74"/><circle cx="422.5" cy="53.1" r="0.74"/><circle cx="420.5" cy="57.7" r="0.74"/><circle cx="421.1" cy="58.6" r="0.74"/><circle cx="423.6" cy="65.4" r="0.74"/><circle cx="419.8" cy="74.3" r="0.74"/><circle cx="445.5" cy="35.4" r="0.74"/><circle cx="449.0" cy="38.9" r="0.74"/><circle cx="450.0" cy="40.8" r="0.74"/><circle cx="445.5" cy="47.7" r="0.74"/><circle cx="448.3" cy="49.7" r="0.74"/><circle cx="450.0" cy="52.0" r="0.74"/><circle cx="447.8" cy="53.4" r="0.74"/><circle cx="446.0" cy="58.0" r="0.74"/><circle cx="449.0" cy="58.0" r="0.74"/><circle cx="445.5" cy="60.5" r="0.74"/><circle cx="450.0" cy="61.8" r="0.74"/><circle cx="448.5" cy="71.0" r="0.74"/><circle cx="445.7" cy="75.0" r="0.74"/><circle cx="449.0" cy="70.3" r="0.74"/><circle cx="445.7" cy="74.6" r="0.74"/><circle cx="474.3" cy="58.8" r="0.74"/><circle cx="475.4" cy="45.2" r="0.74"/><circle cx="472.5" cy="57.7" r="0.74"/><circle cx="475.2" cy="47.4" r="0.74"/><circle cx="475.9" cy="55.6" r="0.74"/><circle cx="475.9" cy="49.7" r="0.74"/><circle cx="474.5" cy="54.6" r="0.74"/><circle cx="472.8" cy="48.8" r="0.74"/><circle cx="472.8" cy="44.5" r="0.74"/><circle cx="474.4" cy="44.2" r="0.74"/><circle cx="475.3" cy="52.2" r="0.74"/><circle cx="472.7" cy="50.2" r="0.74"/><circle cx="474.7" cy="51.4" r="0.74"/><circle cx="472.6" cy="63.1" r="0.74"/><circle cx="476.7" cy="57.4" r="0.74"/><circle cx="473.0" cy="50.2" r="0.74"/><circle cx="475.7" cy="34.3" r="0.74"/><circle cx="476.9" cy="48.1" r="0.74"/><circle cx="474.6" cy="54.6" r="0.74"/><circle cx="473.1" cy="33.8" r="0.74"/><circle cx="476.0" cy="54.6" r="0.74"/><circle cx="474.0" cy="47.5" r="0.74"/><circle cx="475.8" cy="51.2" r="0.74"/><circle cx="473.6" cy="41.3" r="0.74"/><circle cx="476.1" cy="36.5" r="0.74"/><circle cx="476.6" cy="44.5" r="0.74"/><circle cx="473.3" cy="43.0" r="0.74"/><circle cx="473.8" cy="50.8" r="0.74"/><circle cx="472.5" cy="41.1" r="0.74"/><circle cx="476.7" cy="48.2" r="0.74"/><circle cx="475.5" cy="45.9" r="0.74"/><circle cx="476.0" cy="46.4" r="0.74"/><circle cx="472.9" cy="52.8" r="0.74"/><circle cx="474.0" cy="60.6" r="0.74"/><circle cx="476.4" cy="52.1" r="0.74"/><circle cx="476.4" cy="59.4" r="0.74"/><circle cx="472.8" cy="53.4" r="0.74"/><circle cx="474.2" cy="39.4" r="0.74"/><circle cx="476.0" cy="50.5" r="0.74"/><circle cx="475.0" cy="52.2" r="0.74"/><circle cx="474.4" cy="58.3" r="0.74"/><circle cx="473.2" cy="40.1" r="0.74"/><circle cx="476.1" cy="50.1" r="0.74"/><circle cx="473.5" cy="52.4" r="0.74"/><circle cx="475.0" cy="64.0" r="0.74"/><circle cx="472.4" cy="53.4" r="0.74"/><circle cx="472.5" cy="55.7" r="0.74"/><circle cx="474.3" cy="43.8" r="0.74"/><circle cx="474.7" cy="41.6" r="0.74"/><circle cx="473.4" cy="46.8" r="0.74"/><circle cx="475.4" cy="52.5" r="0.74"/><circle cx="474.0" cy="49.5" r="0.74"/><circle cx="472.8" cy="50.0" r="0.74"/><circle cx="475.0" cy="53.4" r="0.74"/><circle cx="475.1" cy="45.8" r="0.74"/><circle cx="474.5" cy="47.0" r="0.74"/><circle cx="473.0" cy="39.9" r="0.74"/><circle cx="473.0" cy="44.8" r="0.74"/><circle cx="472.8" cy="52.2" r="0.74"/><circle cx="475.9" cy="59.9" r="0.74"/><circle cx="474.2" cy="61.7" r="0.74"/><circle cx="475.3" cy="50.1" r="0.74"/><circle cx="474.9" cy="48.9" r="0.74"/><circle cx="474.4" cy="56.5" r="0.74"/><circle cx="476.7" cy="41.2" r="0.74"/><circle cx="476.5" cy="50.6" r="0.74"/><circle cx="472.6" cy="55.7" r="0.74"/><circle cx="473.4" cy="57.6" r="0.74"/><circle cx="472.6" cy="51.6" r="0.74"/><circle cx="474.9" cy="49.8" r="0.74"/><circle cx="476.7" cy="51.2" r="0.74"/><circle cx="475.1" cy="46.9" r="0.74"/><circle cx="474.7" cy="46.1" r="0.74"/><circle cx="473.2" cy="58.8" r="0.74"/><circle cx="473.8" cy="60.8" r="0.74"/><circle cx="476.4" cy="50.8" r="0.74"/><circle cx="476.0" cy="47.8" r="0.74"/><circle cx="476.2" cy="50.2" r="0.74"/><circle cx="475.8" cy="50.9" r="0.74"/><circle cx="474.4" cy="62.2" r="0.74"/><circle cx="473.4" cy="47.3" r="0.74"/><circle cx="472.5" cy="45.7" r="0.74"/><circle cx="473.9" cy="46.6" r="0.74"/><circle cx="476.2" cy="50.1" r="0.74"/><circle cx="475.6" cy="61.7" r="0.74"/><circle cx="474.4" cy="51.0" r="0.74"/><circle cx="476.0" cy="40.5" r="0.74"/><circle cx="475.3" cy="55.9" r="0.74"/><circle cx="476.8" cy="50.9" r="0.74"/><circle cx="472.4" cy="46.8" r="0.74"/><circle cx="473.5" cy="34.8" r="0.74"/><circle cx="476.7" cy="48.9" r="0.74"/><circle cx="475.8" cy="37.6" r="0.74"/><circle cx="473.9" cy="57.3" r="0.74"/><circle cx="473.5" cy="36.2" r="0.74"/><circle cx="475.5" cy="41.1" r="0.74"/><circle cx="475.4" cy="55.9" r="0.74"/><circle cx="476.2" cy="41.6" r="0.74"/><circle cx="475.6" cy="51.2" r="0.74"/><circle cx="475.7" cy="45.0" r="0.74"/><circle cx="475.0" cy="56.4" r="0.74"/><circle cx="475.2" cy="51.9" r="0.74"/><circle cx="472.7" cy="45.1" r="0.74"/><circle cx="472.5" cy="46.4" r="0.74"/><circle cx="472.8" cy="52.3" r="0.74"/><circle cx="473.0" cy="43.7" r="0.74"/><circle cx="472.5" cy="53.0" r="0.74"/><circle cx="475.3" cy="38.8" r="0.74"/><circle cx="475.6" cy="47.0" r="0.74"/><circle cx="475.1" cy="50.3" r="0.74"/><circle cx="474.0" cy="52.8" r="0.74"/><circle cx="476.4" cy="44.3" r="0.74"/><circle cx="472.7" cy="62.8" r="0.74"/><circle cx="476.7" cy="38.7" r="0.74"/><circle cx="472.8" cy="62.4" r="0.74"/><circle cx="472.5" cy="49.0" r="0.74"/><circle cx="476.2" cy="46.5" r="0.74"/><circle cx="476.1" cy="45.9" r="0.74"/><circle cx="475.3" cy="60.0" r="0.74"/><circle cx="472.8" cy="50.8" r="0.74"/><circle cx="475.8" cy="46.7" r="0.74"/><circle cx="474.3" cy="48.2" r="0.74"/><circle cx="472.4" cy="43.7" r="0.74"/><circle cx="475.6" cy="50.3" r="0.74"/><circle cx="474.0" cy="43.9" r="0.74"/><circle cx="474.7" cy="58.4" r="0.74"/><circle cx="476.3" cy="32.4" r="0.74"/><circle cx="474.2" cy="51.4" r="0.74"/><circle cx="474.4" cy="51.3" r="0.74"/><circle cx="475.6" cy="49.0" r="0.74"/><circle cx="474.8" cy="57.0" r="0.74"/><circle cx="472.8" cy="46.9" r="0.74"/><circle cx="476.1" cy="35.3" r="0.74"/><circle cx="473.3" cy="49.8" r="0.74"/><circle cx="475.9" cy="49.7" r="0.74"/><circle cx="474.6" cy="49.3" r="0.74"/><circle cx="474.6" cy="50.1" r="0.74"/><circle cx="474.6" cy="48.6" r="0.74"/><circle cx="473.9" cy="54.7" r="0.74"/><circle cx="476.7" cy="47.1" r="0.74"/><circle cx="473.7" cy="55.2" r="0.74"/><circle cx="474.6" cy="47.4" r="0.74"/><circle cx="472.9" cy="38.6" r="0.74"/><circle cx="476.0" cy="52.1" r="0.74"/><circle cx="475.6" cy="52.4" r="0.74"/><circle cx="474.0" cy="47.6" r="0.74"/><circle cx="474.2" cy="60.4" r="0.74"/><circle cx="472.7" cy="62.6" r="0.74"/><circle cx="476.4" cy="40.2" r="0.74"/><circle cx="473.6" cy="44.9" r="0.74"/><circle cx="476.5" cy="49.2" r="0.74"/><circle cx="476.4" cy="57.4" r="0.74"/><circle cx="473.4" cy="50.1" r="0.74"/><circle cx="475.8" cy="59.1" r="0.74"/><circle cx="475.8" cy="47.8" r="0.74"/><circle cx="473.9" cy="54.3" r="0.74"/><circle cx="473.1" cy="55.6" r="0.74"/><circle cx="475.8" cy="43.9" r="0.74"/><circle cx="473.1" cy="59.3" r="0.74"/><circle cx="475.0" cy="62.1" r="0.74"/><circle cx="472.9" cy="45.1" r="0.74"/><circle cx="473.4" cy="46.3" r="0.74"/><circle cx="475.6" cy="47.7" r="0.74"/><circle cx="476.2" cy="44.0" r="0.74"/><circle cx="473.5" cy="47.5" r="0.74"/><circle cx="473.9" cy="46.4" r="0.74"/><circle cx="473.9" cy="54.5" r="0.74"/><circle cx="473.2" cy="50.7" r="0.74"/><circle cx="472.8" cy="37.9" r="0.74"/><circle cx="476.8" cy="51.9" r="0.74"/><circle cx="476.9" cy="44.0" r="0.74"/><circle cx="476.0" cy="45.6" r="0.74"/><circle cx="473.3" cy="50.9" r="0.74"/><circle cx="475.3" cy="58.1" r="0.74"/><circle cx="474.1" cy="46.0" r="0.74"/><circle cx="472.5" cy="46.8" r="0.74"/><circle cx="475.5" cy="60.8" r="0.74"/><circle cx="474.7" cy="42.1" r="0.74"/><circle cx="473.0" cy="55.7" r="0.74"/><circle cx="475.1" cy="56.3" r="0.74"/><circle cx="476.5" cy="60.3" r="0.74"/><circle cx="474.3" cy="43.0" r="0.74"/><circle cx="474.3" cy="61.3" r="0.74"/><circle cx="473.4" cy="55.7" r="0.74"/><circle cx="475.9" cy="52.7" r="0.74"/><circle cx="475.4" cy="78.9" r="0.74"/><circle cx="475.3" cy="78.2" r="0.74"/><circle cx="474.5" cy="77.6" r="0.74"/><circle cx="475.1" cy="77.0" r="0.74"/><circle cx="474.4" cy="75.7" r="0.74"/><circle cx="475.4" cy="75.0" r="0.74"/><circle cx="473.8" cy="74.4" r="0.74"/><circle cx="474.5" cy="73.4" r="0.74"/><circle cx="474.3" cy="72.6" r="0.74"/><circle cx="476.2" cy="72.1" r="0.74"/><circle cx="475.2" cy="70.9" r="0.74"/><circle cx="474.2" cy="70.3" r="0.74"/><circle cx="476.4" cy="69.8" r="0.74"/><circle cx="474.8" cy="68.9" r="0.74"/><circle cx="475.7" cy="67.6" r="0.74"/><circle cx="474.7" cy="67.4" r="0.74"/><circle cx="474.9" cy="66.3" r="0.74"/><circle cx="475.4" cy="65.5" r="0.74"/><circle cx="475.2" cy="64.5" r="0.74"/><circle cx="474.7" cy="64.0" r="0.74"/><circle cx="474.7" cy="27.3" r="0.74"/><circle cx="473.9" cy="28.1" r="0.74"/><circle cx="475.5" cy="28.6" r="0.74"/><circle cx="475.0" cy="92.1" r="0.74"/><circle cx="475.2" cy="30.7" r="0.74"/><circle cx="474.4" cy="29.8" r="0.74"/><circle cx="501.2" cy="47.0" r="0.74"/><circle cx="499.7" cy="48.2" r="0.74"/><circle cx="502.7" cy="49.4" r="0.74"/><circle cx="498.2" cy="55.8" r="0.74"/><circle cx="503.1" cy="55.5" r="0.74"/><circle cx="502.8" cy="57.8" r="0.74"/><circle cx="500.9" cy="61.7" r="0.74"/><circle cx="500.5" cy="63.0" r="0.74"/><circle cx="502.0" cy="65.0" r="0.74"/><circle cx="503.1" cy="65.0" r="0.74"/><circle cx="500.0" cy="66.2" r="0.74"/><circle cx="498.7" cy="68.2" r="0.74"/><circle cx="502.8" cy="68.8" r="0.74"/><circle cx="502.7" cy="72.8" r="0.74"/><circle cx="500.5" cy="78.2" r="0.74"/><circle cx="502.0" cy="78.8" r="0.74"/><circle cx="503.5" cy="78.8" r="0.74"/><circle cx="503.1" cy="88.5" r="0.74"/><circle cx="500.9" cy="89.7" r="0.74"/><circle cx="498.9" cy="92.3" r="0.74"/><circle cx="500.0" cy="93.8" r="0.74"/><circle cx="499.4" cy="101.2" r="0.74"/><circle cx="500.9" cy="106.2" r="0.74"/><circle cx="498.9" cy="118.8" r="0.74"/><circle cx="500.0" cy="118.5" r="0.74"/><circle cx="503.1" cy="118.2" r="0.74"/><circle cx="501.5" cy="92.0" r="0.74"/></g>
<rect x="31.8" y="264.5" width="21.6" height="17.4" fill="#d9d9d9" stroke="none"/>
<rect x="31.8" y="279.55" width="21.6" height="0.9" fill="#b4b4b4" stroke="none"/>
<rect x="58.3" y="218.7" width="21.6" height="2.5" fill="#d9d9d9" stroke="none"/>
<rect x="58.3" y="219.69" width="21.6" height="0.9" fill="#b4b4b4" stroke="none"/>
<rect x="84.8" y="232.4" width="21.6" height="29.1" fill="#d9d9d9" stroke="none"/>
<rect x="84.8" y="238.38" width="21.6" height="0.9" fill="#b4b4b4" stroke="none"/>
<rect x="111.3" y="221.8" width="21.6" height="41.3" fill="#d9d9d9" stroke="none"/>
<rect x="111.3" y="235.95" width="21.6" height="0.9" fill="#b4b4b4" stroke="none"/>
<rect x="137.8" y="227.2" width="21.6" height="24.4" fill="#d9d9d9" stroke="none"/>
<rect x="137.8" y="236.68" width="21.6" height="0.9" fill="#b4b4b4" stroke="none"/>
<rect x="24.1" y="183.5" width="143.4" height="128.1" fill="none" stroke="#7c7c7c" stroke-width="0.5"/>
<line x1="21.6" y1="306.6" x2="24.1" y2="306.6" stroke="#909090" stroke-width="0.5"/>
<text transform="translate(16.4,307.3) rotate(-90) scale(0.92,1)" text-anchor="middle" font-size="6.2">0</text>
<line x1="21.6" y1="269.7" x2="24.1" y2="269.7" stroke="#909090" stroke-width="0.5"/>
<text transform="translate(16.4,270.4) rotate(-90) scale(0.92,1)" text-anchor="middle" font-size="6.2">5</text>
<line x1="21.6" y1="232.7" x2="24.1" y2="232.7" stroke="#909090" stroke-width="0.5"/>
<text transform="translate(15.8,233.7) rotate(-90) scale(0.92,1)" text-anchor="middle" font-size="6.2">10</text>
<line x1="21.6" y1="195.8" x2="24.1" y2="195.8" stroke="#909090" stroke-width="0.5"/>
<text transform="translate(15.8,196.8) rotate(-90) scale(0.92,1)" text-anchor="middle" font-size="6.2">15</text>
<line x1="42.6" y1="311.6" x2="42.6" y2="314.1" stroke="#909090" stroke-width="0.5"/>
<text transform="translate(43.8,325.1) scale(0.95,1)" text-anchor="middle" font-size="6.2" letter-spacing="0.1">MBC</text>
<line x1="69.1" y1="311.6" x2="69.1" y2="314.1" stroke="#909090" stroke-width="0.5"/>
<text transform="translate(70.3,325.1) scale(0.95,1)" text-anchor="middle" font-size="6.2" letter-spacing="0.1">BMPC</text>
<line x1="95.6" y1="311.6" x2="95.6" y2="314.1" stroke="#909090" stroke-width="0.5"/>
<text transform="translate(96.8,325.1) scale(0.95,1)" text-anchor="middle" font-size="6.2" letter-spacing="0.1">MGUS</text>
<line x1="122.1" y1="311.6" x2="122.1" y2="314.1" stroke="#909090" stroke-width="0.5"/>
<text transform="translate(123.3,325.1) scale(0.95,1)" text-anchor="middle" font-size="6.2" letter-spacing="0.1">MM</text>
<line x1="148.6" y1="311.6" x2="148.6" y2="314.1" stroke="#909090" stroke-width="0.5"/>
<text transform="translate(149.8,325.1) scale(0.95,1)" text-anchor="middle" font-size="6.2" letter-spacing="0.1">HMCL</text>
<text transform="translate(5.3,245.7) rotate(-90) scale(0.98,1)" text-anchor="middle" font-size="6.2">Exprs</text>
<text x="94.2" y="175.2" text-anchor="middle" font-size="7.5" fill="#000">TIMP1(201666_at)</text>
<g fill="#000" stroke="none"><circle cx="41.0" cy="258.5" r="0.74"/><circle cx="44.6" cy="264.7" r="0.74"/><circle cx="43.4" cy="276.5" r="0.74"/><circle cx="42.0" cy="281.5" r="0.74"/><circle cx="44.6" cy="284.9" r="0.74"/><circle cx="70.9" cy="215.8" r="0.74"/><circle cx="69.8" cy="219.5" r="0.74"/><circle cx="69.3" cy="220.8" r="0.74"/><circle cx="67.8" cy="221.5" r="0.74"/><circle cx="68.2" cy="222.6" r="0.74"/><circle cx="71.6" cy="223.8" r="0.74"/><circle cx="96.8" cy="224.2" r="0.74"/><circle cx="96.6" cy="231.0" r="0.74"/><circle cx="97.3" cy="230.8" r="0.74"/><circle cx="95.8" cy="232.3" r="0.74"/><circle cx="94.2" cy="234.6" r="0.74"/><circle cx="96.5" cy="235.4" r="0.74"/><circle cx="94.2" cy="237.0" r="0.74"/><circle cx="98.1" cy="236.6" r="0.74"/><circle cx="96.4" cy="242.3" r="0.74"/><circle cx="96.9" cy="251.0" r="0.74"/><circle cx="97.8" cy="260.5" r="0.74"/><circle cx="95.2" cy="262.2" r="0.74"/><circle cx="95.7" cy="270.8" r="0.74"/><circle cx="96.4" cy="280.4" r="0.74"/><circle cx="93.2" cy="287.4" r="0.74"/><circle cx="95.1" cy="233.5" r="0.74"/><circle cx="124.7" cy="258.2" r="0.74"/><circle cx="121.5" cy="226.2" r="0.74"/><circle cx="123.6" cy="211.7" r="0.74"/><circle cx="120.8" cy="234.0" r="0.74"/><circle cx="121.5" cy="227.6" r="0.74"/><circle cx="121.6" cy="217.4" r="0.74"/><circle cx="123.2" cy="230.1" r="0.74"/><circle cx="120.5" cy="237.5" r="0.74"/><circle cx="123.5" cy="222.9" r="0.74"/><circle cx="120.5" cy="216.1" r="0.74"/><circle cx="123.8" cy="237.2" r="0.74"/><circle cx="119.9" cy="238.4" r="0.74"/><circle cx="123.7" cy="225.5" r="0.74"/><circle cx="121.9" cy="224.3" r="0.74"/><circle cx="122.5" cy="248.8" r="0.74"/><circle cx="121.2" cy="226.1" r="0.74"/><circle cx="123.9" cy="247.0" r="0.74"/><circle cx="121.9" cy="250.0" r="0.74"/><circle cx="119.9" cy="235.8" r="0.74"/><circle cx="124.0" cy="215.1" r="0.74"/><circle cx="120.8" cy="247.1" r="0.74"/><circle cx="121.4" cy="210.7" r="0.74"/><circle cx="120.3" cy="231.5" r="0.74"/><circle cx="119.2" cy="217.2" r="0.74"/><circle cx="120.6" cy="233.1" r="0.74"/><circle cx="121.0" cy="241.9" r="0.74"/><circle cx="122.9" cy="245.2" r="0.74"/><circle cx="123.0" cy="229.4" r="0.74"/><circle cx="124.2" cy="251.1" r="0.74"/><circle cx="119.5" cy="208.0" r="0.74"/><circle cx="123.7" cy="217.6" r="0.74"/><circle cx="120.0" cy="256.7" r="0.74"/><circle cx="119.3" cy="222.0" r="0.74"/><circle cx="119.3" cy="247.7" r="0.74"/><circle cx="120.7" cy="212.7" r="0.74"/><circle cx="119.8" cy="237.0" r="0.74"/><circle cx="123.7" cy="225.2" r="0.74"/><circle cx="121.2" cy="223.6" r="0.74"/><circle cx="123.8" cy="214.7" r="0.74"/><circle cx="120.2" cy="207.6" r="0.74"/><circle cx="123.7" cy="217.1" r="0.74"/><circle cx="123.1" cy="242.7" r="0.74"/><circle cx="124.1" cy="212.8" r="0.74"/><circle cx="120.3" cy="245.7" r="0.74"/><circle cx="123.5" cy="237.0" r="0.74"/><circle cx="121.7" cy="246.5" r="0.74"/><circle cx="120.7" cy="218.7" r="0.74"/><circle cx="120.6" cy="242.6" r="0.74"/><circle cx="119.5" cy="221.3" r="0.74"/><circle cx="121.9" cy="219.3" r="0.74"/><circle cx="122.1" cy="221.7" r="0.74"/><circle cx="122.3" cy="219.0" r="0.74"/><circle cx="124.1" cy="230.2" r="0.74"/><circle cx="121.9" cy="232.4" r="0.74"/><circle cx="124.1" cy="249.4" r="0.74"/><circle cx="121.4" cy="238.8" r="0.74"/><circle cx="119.6" cy="260.7" r="0.74"/><circle cx="122.9" cy="214.7" r="0.74"/><circle cx="122.7" cy="233.3" r="0.74"/><circle cx="123.2" cy="233.6" r="0.74"/><circle cx="124.9" cy="220.4" r="0.74"/><circle cx="122.2" cy="236.2" r="0.74"/><circle cx="119.4" cy="259.5" r="0.74"/><circle cx="123.4" cy="228.5" r="0.74"/><circle cx="124.2" cy="239.8" r="0.74"/><circle cx="121.3" cy="239.8" r="0.74"/><circle cx="123.7" cy="247.3" r="0.74"/><circle cx="120.4" cy="228.6" r="0.74"/><circle cx="122.4" cy="244.0" r="0.74"/><circle cx="124.0" cy="225.7" r="0.74"/><circle cx="121.5" cy="237.9" r="0.74"/><circle cx="122.1" cy="207.2" r="0.74"/><circle cx="124.9" cy="233.4" r="0.74"/><circle cx="123.0" cy="215.6" r="0.74"/><circle cx="121.0" cy="228.1" r="0.74"/><circle cx="120.9" cy="242.7" r="0.74"/><circle cx="123.7" cy="247.4" r="0.74"/><circle cx="119.4" cy="241.0" r="0.74"/><circle cx="122.4" cy="236.0" r="0.74"/><circle cx="119.5" cy="258.5" r="0.74"/><circle cx="120.3" cy="231.7" r="0.74"/><circle cx="124.5" cy="229.8" r="0.74"/><circle cx="123.8" cy="246.3" r="0.74"/><circle cx="124.5" cy="243.5" r="0.74"/><circle cx="122.8" cy="245.3" r="0.74"/><circle cx="123.2" cy="243.1" r="0.74"/><circle cx="120.4" cy="247.8" r="0.74"/><circle cx="123.1" cy="242.7" r="0.74"/><circle cx="119.8" cy="253.0" r="0.74"/><circle cx="120.3" cy="225.3" r="0.74"/><circle cx="124.5" cy="208.9" r="0.74"/><circle cx="123.0" cy="225.9" r="0.74"/><circle cx="123.8" cy="248.0" r="0.74"/><circle cx="122.5" cy="213.1" r="0.74"/><circle cx="121.6" cy="231.8" r="0.74"/><circle cx="121.0" cy="220.0" r="0.74"/><circle cx="124.6" cy="248.5" r="0.74"/><circle cx="119.5" cy="223.2" r="0.74"/><circle cx="119.9" cy="234.7" r="0.74"/><circle cx="123.9" cy="232.8" r="0.74"/><circle cx="121.8" cy="257.7" r="0.74"/><circle cx="119.3" cy="244.8" r="0.74"/><circle cx="124.6" cy="244.7" r="0.74"/><circle cx="124.9" cy="219.6" r="0.74"/><circle cx="119.8" cy="244.8" r="0.74"/><circle cx="122.9" cy="229.1" r="0.74"/><circle cx="119.3" cy="229.4" r="0.74"/><circle cx="119.2" cy="223.8" r="0.74"/><circle cx="124.8" cy="234.0" r="0.74"/><circle cx="119.7" cy="237.4" r="0.74"/><circle cx="119.3" cy="226.5" r="0.74"/><circle cx="123.4" cy="236.3" r="0.74"/><circle cx="120.3" cy="230.2" r="0.74"/><circle cx="119.5" cy="209.6" r="0.74"/><circle cx="124.2" cy="228.1" r="0.74"/><circle cx="123.4" cy="252.0" r="0.74"/><circle cx="123.3" cy="215.1" r="0.74"/><circle cx="121.9" cy="221.8" r="0.74"/><circle cx="124.8" cy="221.9" r="0.74"/><circle cx="123.4" cy="235.4" r="0.74"/><circle cx="123.0" cy="228.9" r="0.74"/><circle cx="123.9" cy="231.1" r="0.74"/><circle cx="123.4" cy="221.1" r="0.74"/><circle cx="120.2" cy="225.7" r="0.74"/><circle cx="119.5" cy="221.4" r="0.74"/><circle cx="121.3" cy="243.0" r="0.74"/><circle cx="123.1" cy="244.0" r="0.74"/><circle cx="120.0" cy="237.7" r="0.74"/><circle cx="122.9" cy="227.5" r="0.74"/><circle cx="122.9" cy="243.3" r="0.74"/><circle cx="123.8" cy="242.6" r="0.74"/><circle cx="124.7" cy="224.7" r="0.74"/><circle cx="120.9" cy="227.5" r="0.74"/><circle cx="119.6" cy="248.0" r="0.74"/><circle cx="124.0" cy="210.8" r="0.74"/><circle cx="121.1" cy="234.6" r="0.74"/><circle cx="124.0" cy="260.1" r="0.74"/><circle cx="122.7" cy="253.8" r="0.74"/><circle cx="124.4" cy="236.3" r="0.74"/><circle cx="121.4" cy="218.1" r="0.74"/><circle cx="124.4" cy="238.4" r="0.74"/><circle cx="123.9" cy="247.8" r="0.74"/><circle cx="120.7" cy="231.4" r="0.74"/><circle cx="121.7" cy="230.5" r="0.74"/><circle cx="124.3" cy="252.2" r="0.74"/><circle cx="119.4" cy="243.9" r="0.74"/><circle cx="124.2" cy="219.1" r="0.74"/><circle cx="122.5" cy="252.3" r="0.74"/><circle cx="123.9" cy="235.1" r="0.74"/><circle cx="121.2" cy="243.0" r="0.74"/><circle cx="119.7" cy="258.2" r="0.74"/><circle cx="120.4" cy="253.7" r="0.74"/><circle cx="123.6" cy="239.1" r="0.74"/><circle cx="122.7" cy="222.4" r="0.74"/><circle cx="123.1" cy="235.3" r="0.74"/><circle cx="120.7" cy="240.1" r="0.74"/><circle cx="123.6" cy="229.3" r="0.74"/><circle cx="119.7" cy="227.4" r="0.74"/><circle cx="123.9" cy="245.5" r="0.74"/><circle cx="122.6" cy="229.9" r="0.74"/><circle cx="124.4" cy="240.8" r="0.74"/><circle cx="122.0" cy="219.1" r="0.74"/><circle cx="122.6" cy="241.9" r="0.74"/><circle cx="120.2" cy="228.0" r="0.74"/><circle cx="123.3" cy="223.2" r="0.74"/><circle cx="121.5" cy="242.4" r="0.74"/><circle cx="122.2" cy="218.2" r="0.74"/><circle cx="125.0" cy="228.8" r="0.74"/><circle cx="121.4" cy="228.0" r="0.74"/><circle cx="123.8" cy="216.4" r="0.74"/><circle cx="120.1" cy="219.6" r="0.74"/><circle cx="122.2" cy="241.2" r="0.74"/><circle cx="119.3" cy="238.2" r="0.74"/><circle cx="124.2" cy="222.7" r="0.74"/><circle cx="120.7" cy="248.4" r="0.74"/><circle cx="123.7" cy="229.7" r="0.74"/><circle cx="123.7" cy="260.0" r="0.74"/><circle cx="123.9" cy="216.8" r="0.74"/><circle cx="119.4" cy="221.3" r="0.74"/><circle cx="120.4" cy="233.5" r="0.74"/><circle cx="119.5" cy="228.9" r="0.74"/><circle cx="122.4" cy="226.2" r="0.74"/><circle cx="124.7" cy="221.1" r="0.74"/><circle cx="124.5" cy="241.9" r="0.74"/><circle cx="121.5" cy="214.7" r="0.74"/><circle cx="120.0" cy="279.5" r="0.74"/><circle cx="120.8" cy="279.0" r="0.74"/><circle cx="122.9" cy="278.2" r="0.74"/><circle cx="123.0" cy="277.9" r="0.74"/><circle cx="121.8" cy="277.3" r="0.74"/><circle cx="124.6" cy="276.3" r="0.74"/><circle cx="120.6" cy="276.1" r="0.74"/><circle cx="120.8" cy="275.4" r="0.74"/><circle cx="124.3" cy="274.5" r="0.74"/><circle cx="123.9" cy="274.3" r="0.74"/><circle cx="123.6" cy="273.3" r="0.74"/><circle cx="122.9" cy="272.5" r="0.74"/><circle cx="119.7" cy="272.3" r="0.74"/><circle cx="123.5" cy="271.3" r="0.74"/><circle cx="123.1" cy="271.0" r="0.74"/><circle cx="122.6" cy="270.1" r="0.74"/><circle cx="120.0" cy="269.7" r="0.74"/><circle cx="120.8" cy="269.2" r="0.74"/><circle cx="122.0" cy="268.5" r="0.74"/><circle cx="120.7" cy="267.9" r="0.74"/><circle cx="123.1" cy="267.4" r="0.74"/><circle cx="123.3" cy="266.6" r="0.74"/><circle cx="119.6" cy="265.6" r="0.74"/><circle cx="120.6" cy="265.0" r="0.74"/><circle cx="124.1" cy="264.4" r="0.74"/><circle cx="120.2" cy="264.0" r="0.74"/><circle cx="119.9" cy="263.1" r="0.74"/><circle cx="123.9" cy="262.7" r="0.74"/><circle cx="121.8" cy="262.2" r="0.74"/><circle cx="123.8" cy="261.5" r="0.74"/><circle cx="122.8" cy="261.0" r="0.74"/><circle cx="120.6" cy="260.4" r="0.74"/><circle cx="123.3" cy="259.6" r="0.74"/><circle cx="120.2" cy="258.8" r="0.74"/><circle cx="120.8" cy="258.4" r="0.74"/><circle cx="120.2" cy="257.8" r="0.74"/><circle cx="123.9" cy="257.2" r="0.74"/><circle cx="120.3" cy="256.4" r="0.74"/><circle cx="121.1" cy="255.6" r="0.74"/><circle cx="120.0" cy="254.9" r="0.74"/><circle cx="119.7" cy="290.7" r="0.74"/><circle cx="123.0" cy="290.4" r="0.74"/><circle cx="122.0" cy="289.9" r="0.74"/><circle cx="120.8" cy="289.4" r="0.74"/><circle cx="121.4" cy="288.6" r="0.74"/><circle cx="124.8" cy="288.1" r="0.74"/><circle cx="119.9" cy="287.9" r="0.74"/><circle cx="124.2" cy="287.5" r="0.74"/><circle cx="123.3" cy="286.9" r="0.74"/><circle cx="124.7" cy="286.5" r="0.74"/><circle cx="123.8" cy="285.9" r="0.74"/><circle cx="120.2" cy="285.5" r="0.74"/><circle cx="123.9" cy="284.8" r="0.74"/><circle cx="120.4" cy="284.3" r="0.74"/><circle cx="124.3" cy="283.9" r="0.74"/><circle cx="122.5" cy="283.4" r="0.74"/><circle cx="120.4" cy="282.7" r="0.74"/><circle cx="123.2" cy="282.4" r="0.74"/><circle cx="119.8" cy="281.9" r="0.74"/><circle cx="122.7" cy="281.3" r="0.74"/><circle cx="120.9" cy="280.9" r="0.74"/><circle cx="122.7" cy="280.2" r="0.74"/><circle cx="123.2" cy="206.3" r="0.74"/><circle cx="121.0" cy="205.7" r="0.74"/><circle cx="122.9" cy="204.4" r="0.74"/><circle cx="122.9" cy="203.6" r="0.74"/><circle cx="123.2" cy="202.4" r="0.74"/><circle cx="123.3" cy="201.0" r="0.74"/><circle cx="122.1" cy="200.6" r="0.74"/><circle cx="123.6" cy="199.2" r="0.74"/><circle cx="120.3" cy="196.5" r="0.74"/><circle cx="121.1" cy="200.9" r="0.74"/><circle cx="150.1" cy="215.3" r="0.74"/><circle cx="147.4" cy="269.3" r="0.74"/><circle cx="150.7" cy="252.7" r="0.74"/><circle cx="146.8" cy="251.1" r="0.74"/><circle cx="147.9" cy="250.6" r="0.74"/><circle cx="147.9" cy="249.2" r="0.74"/><circle cx="145.8" cy="248.2" r="0.74"/><circle cx="148.3" cy="247.2" r="0.74"/><circle cx="146.5" cy="245.9" r="0.74"/><circle cx="150.4" cy="244.7" r="0.74"/><circle cx="147.6" cy="243.8" r="0.74"/><circle cx="147.9" cy="242.7" r="0.74"/><circle cx="146.1" cy="241.5" r="0.74"/><circle cx="151.1" cy="240.8" r="0.74"/><circle cx="148.7" cy="239.7" r="0.74"/><circle cx="148.8" cy="239.1" r="0.74"/><circle cx="151.2" cy="237.8" r="0.74"/><circle cx="146.8" cy="236.9" r="0.74"/><circle cx="147.2" cy="235.2" r="0.74"/><circle cx="146.0" cy="234.7" r="0.74"/><circle cx="149.7" cy="233.6" r="0.74"/><circle cx="145.9" cy="232.2" r="0.74"/><circle cx="149.0" cy="231.2" r="0.74"/><circle cx="149.7" cy="230.5" r="0.74"/><circle cx="150.7" cy="228.9" r="0.74"/><circle cx="146.1" cy="228.3" r="0.74"/><circle cx="148.6" cy="226.9" r="0.74"/><circle cx="147.4" cy="226.2" r="0.74"/><circle cx="148.1" cy="225.1" r="0.74"/><circle cx="149.1" cy="223.4" r="0.74"/><circle cx="146.6" cy="222.6" r="0.74"/><circle cx="150.0" cy="221.9" r="0.74"/><circle cx="150.4" cy="220.2" r="0.74"/><circle cx="148.0" cy="219.5" r="0.74"/><circle cx="150.5" cy="218.4" r="0.74"/><circle cx="148.0" cy="217.0" r="0.74"/><circle cx="149.7" cy="290.1" r="0.74"/><circle cx="147.6" cy="288.9" r="0.74"/><circle cx="148.3" cy="287.1" r="0.74"/><circle cx="149.8" cy="286.0" r="0.74"/><circle cx="149.9" cy="284.9" r="0.74"/><circle cx="146.8" cy="284.0" r="0.74"/><circle cx="150.4" cy="282.5" r="0.74"/><circle cx="147.6" cy="281.8" r="0.74"/></g>
<rect x="209.3" y="263.0" width="21.6" height="5.9" fill="#d9d9d9" stroke="none"/>
<rect x="209.3" y="265.47" width="21.6" height="0.9" fill="#b4b4b4" stroke="none"/>
<rect x="235.4" y="205.0" width="21.6" height="1.3" fill="#d9d9d9" stroke="none"/>
<rect x="235.4" y="205.21" width="21.6" height="0.9" fill="#b4b4b4" stroke="none"/>
<rect x="261.6" y="207.3" width="21.6" height="21.7" fill="#d9d9d9" stroke="none"/>
<rect x="261.6" y="216.76" width="21.6" height="0.9" fill="#b4b4b4" stroke="none"/>
<rect x="288.0" y="206.8" width="21.6" height="25.9" fill="#d9d9d9" stroke="none"/>
<rect x="288.0" y="215.84" width="21.6" height="0.9" fill="#b4b4b4" stroke="none"/>
<rect x="314.0" y="207.2" width="21.6" height="16.2" fill="#d9d9d9" stroke="none"/>
<rect x="314.0" y="216.76" width="21.6" height="0.9" fill="#b4b4b4" stroke="none"/>
<rect x="201.4" y="183.5" width="142.2" height="128.1" fill="none" stroke="#7c7c7c" stroke-width="0.5"/>
<line x1="198.9" y1="306.6" x2="201.4" y2="306.6" stroke="#909090" stroke-width="0.5"/>
<text transform="translate(193.7,307.3) rotate(-90) scale(0.92,1)" text-anchor="middle" font-size="6.2">0</text>
<line x1="198.9" y1="289.9" x2="201.4" y2="289.9" stroke="#909090" stroke-width="0.5"/>
<text transform="translate(193.7,290.6) rotate(-90) scale(0.92,1)" text-anchor="middle" font-size="6.2">2</text>
<line x1="198.9" y1="273.1" x2="201.4" y2="273.1" stroke="#909090" stroke-width="0.5"/>
<text transform="translate(193.7,273.8) rotate(-90) scale(0.92,1)" text-anchor="middle" font-size="6.2">4</text>
<line x1="198.9" y1="256.4" x2="201.4" y2="256.4" stroke="#909090" stroke-width="0.5"/>
<text transform="translate(193.7,257.1) rotate(-90) scale(0.92,1)" text-anchor="middle" font-size="6.2">6</text>
<line x1="198.9" y1="239.6" x2="201.4" y2="239.6" stroke="#909090" stroke-width="0.5"/>
<text transform="translate(193.7,240.3) rotate(-90) scale(0.92,1)" text-anchor="middle" font-size="6.2">8</text>
<line x1="198.9" y1="222.9" x2="201.4" y2="222.9" stroke="#909090" stroke-width="0.5"/>
<text transform="translate(193.1,223.9) rotate(-90) scale(0.92,1)" text-anchor="middle" font-size="6.2">10</text>
<line x1="198.9" y1="206.2" x2="201.4" y2="206.2" stroke="#909090" stroke-width="0.5"/>
<text transform="translate(193.1,207.2) rotate(-90) scale(0.92,1)" text-anchor="middle" font-size="6.2">12</text>
<line x1="198.9" y1="189.4" x2="201.4" y2="189.4" stroke="#909090" stroke-width="0.5"/>
<text transform="translate(193.1,190.4) rotate(-90) scale(0.92,1)" text-anchor="middle" font-size="6.2">14</text>
<line x1="220.1" y1="311.6" x2="220.1" y2="314.1" stroke="#909090" stroke-width="0.5"/>
<text transform="translate(221.3,325.1) scale(0.95,1)" text-anchor="middle" font-size="6.2" letter-spacing="0.1">MBC</text>
<line x1="246.2" y1="311.6" x2="246.2" y2="314.1" stroke="#909090" stroke-width="0.5"/>
<text transform="translate(247.4,325.1) scale(0.95,1)" text-anchor="middle" font-size="6.2" letter-spacing="0.1">BMPC</text>
<line x1="272.4" y1="311.6" x2="272.4" y2="314.1" stroke="#909090" stroke-width="0.5"/>
<text transform="translate(273.6,325.1) scale(0.95,1)" text-anchor="middle" font-size="6.2" letter-spacing="0.1">MGUS</text>
<line x1="298.8" y1="311.6" x2="298.8" y2="314.1" stroke="#909090" stroke-width="0.5"/>
<text transform="translate(300.0,325.1) scale(0.95,1)" text-anchor="middle" font-size="6.2" letter-spacing="0.1">MM</text>
<line x1="324.8" y1="311.6" x2="324.8" y2="314.1" stroke="#909090" stroke-width="0.5"/>
<text transform="translate(326.0,325.1) scale(0.95,1)" text-anchor="middle" font-size="6.2" letter-spacing="0.1">HMCL</text>
<text transform="translate(182.6,245.7) rotate(-90) scale(0.98,1)" text-anchor="middle" font-size="6.2">Exprs</text>
<text x="271.8" y="175.2" text-anchor="middle" font-size="7.5" fill="#000">TIMP2(203167_at)</text>
<g fill="#000" stroke="none"><circle cx="219.9" cy="255.6" r="0.74"/><circle cx="219.9" cy="262.7" r="0.74"/><circle cx="218.2" cy="265.2" r="0.74"/><circle cx="221.4" cy="265.2" r="0.74"/><circle cx="216.9" cy="269.1" r="0.74"/><circle cx="219.9" cy="269.1" r="0.74"/><circle cx="244.8" cy="202.6" r="0.74"/><circle cx="245.3" cy="204.8" r="0.74"/><circle cx="246.6" cy="205.6" r="0.74"/><circle cx="247.6" cy="206.4" r="0.74"/><circle cx="247.0" cy="207.0" r="0.74"/><circle cx="248.2" cy="206.9" r="0.74"/><circle cx="274.7" cy="195.0" r="0.74"/><circle cx="274.7" cy="202.8" r="0.74"/><circle cx="270.4" cy="204.6" r="0.74"/><circle cx="273.8" cy="206.0" r="0.74"/><circle cx="273.8" cy="208.5" r="0.74"/><circle cx="270.0" cy="210.3" r="0.74"/><circle cx="271.8" cy="213.7" r="0.74"/><circle cx="273.0" cy="213.0" r="0.74"/><circle cx="274.7" cy="220.7" r="0.74"/><circle cx="274.7" cy="224.5" r="0.74"/><circle cx="270.4" cy="227.1" r="0.74"/><circle cx="273.0" cy="227.1" r="0.74"/><circle cx="273.0" cy="229.7" r="0.74"/><circle cx="271.2" cy="232.4" r="0.74"/><circle cx="272.5" cy="235.4" r="0.74"/><circle cx="275.0" cy="265.3" r="0.74"/><circle cx="271.5" cy="216.5" r="0.74"/><circle cx="299.5" cy="207.9" r="0.74"/><circle cx="296.5" cy="224.7" r="0.74"/><circle cx="298.4" cy="202.9" r="0.74"/><circle cx="296.9" cy="217.1" r="0.74"/><circle cx="301.3" cy="214.6" r="0.74"/><circle cx="299.5" cy="209.6" r="0.74"/><circle cx="300.9" cy="205.0" r="0.74"/><circle cx="297.5" cy="197.0" r="0.74"/><circle cx="299.8" cy="210.7" r="0.74"/><circle cx="301.1" cy="216.8" r="0.74"/><circle cx="299.5" cy="199.0" r="0.74"/><circle cx="298.4" cy="214.6" r="0.74"/><circle cx="301.2" cy="199.3" r="0.74"/><circle cx="299.6" cy="217.0" r="0.74"/><circle cx="296.8" cy="204.1" r="0.74"/><circle cx="298.9" cy="232.1" r="0.74"/><circle cx="299.0" cy="216.2" r="0.74"/><circle cx="296.9" cy="200.6" r="0.74"/><circle cx="297.7" cy="209.8" r="0.74"/><circle cx="298.3" cy="209.9" r="0.74"/><circle cx="296.6" cy="216.8" r="0.74"/><circle cx="299.1" cy="205.4" r="0.74"/><circle cx="299.2" cy="205.3" r="0.74"/><circle cx="299.6" cy="229.1" r="0.74"/><circle cx="298.6" cy="208.6" r="0.74"/><circle cx="299.1" cy="195.7" r="0.74"/><circle cx="297.8" cy="225.3" r="0.74"/><circle cx="297.4" cy="223.7" r="0.74"/><circle cx="298.2" cy="211.9" r="0.74"/><circle cx="299.3" cy="199.7" r="0.74"/><circle cx="300.8" cy="202.9" r="0.74"/><circle cx="297.4" cy="213.7" r="0.74"/><circle cx="297.6" cy="228.2" r="0.74"/><circle cx="301.4" cy="219.6" r="0.74"/><circle cx="297.0" cy="220.6" r="0.74"/><circle cx="296.5" cy="193.8" r="0.74"/><circle cx="296.4" cy="205.2" r="0.74"/><circle cx="298.2" cy="224.3" r="0.74"/><circle cx="296.7" cy="233.6" r="0.74"/><circle cx="297.3" cy="207.0" r="0.74"/><circle cx="296.9" cy="194.6" r="0.74"/><circle cx="297.9" cy="219.7" r="0.74"/><circle cx="299.4" cy="225.8" r="0.74"/><circle cx="300.7" cy="199.5" r="0.74"/><circle cx="300.1" cy="208.0" r="0.74"/><circle cx="300.1" cy="228.2" r="0.74"/><circle cx="300.3" cy="213.7" r="0.74"/><circle cx="299.9" cy="228.8" r="0.74"/><circle cx="300.8" cy="208.9" r="0.74"/><circle cx="296.1" cy="217.9" r="0.74"/><circle cx="298.8" cy="212.9" r="0.74"/><circle cx="301.3" cy="231.1" r="0.74"/><circle cx="300.3" cy="226.3" r="0.74"/><circle cx="300.8" cy="220.2" r="0.74"/><circle cx="298.5" cy="224.1" r="0.74"/><circle cx="298.6" cy="222.2" r="0.74"/><circle cx="298.2" cy="216.3" r="0.74"/><circle cx="299.1" cy="224.8" r="0.74"/><circle cx="300.4" cy="222.8" r="0.74"/><circle cx="300.7" cy="207.2" r="0.74"/><circle cx="297.1" cy="228.1" r="0.74"/><circle cx="297.7" cy="214.5" r="0.74"/><circle cx="299.2" cy="204.5" r="0.74"/><circle cx="296.6" cy="201.5" r="0.74"/><circle cx="300.7" cy="204.8" r="0.74"/><circle cx="300.6" cy="219.9" r="0.74"/><circle cx="298.4" cy="206.3" r="0.74"/><circle cx="301.0" cy="216.7" r="0.74"/><circle cx="299.2" cy="210.6" r="0.74"/><circle cx="298.8" cy="214.3" r="0.74"/><circle cx="299.0" cy="195.5" r="0.74"/><circle cx="301.5" cy="224.9" r="0.74"/><circle cx="299.8" cy="229.6" r="0.74"/><circle cx="298.2" cy="216.2" r="0.74"/><circle cx="298.0" cy="225.1" r="0.74"/><circle cx="301.2" cy="201.4" r="0.74"/><circle cx="296.6" cy="221.4" r="0.74"/><circle cx="298.1" cy="228.2" r="0.74"/><circle cx="299.2" cy="227.6" r="0.74"/><circle cx="300.9" cy="205.1" r="0.74"/><circle cx="298.5" cy="200.4" r="0.74"/><circle cx="299.5" cy="217.7" r="0.74"/><circle cx="299.0" cy="203.0" r="0.74"/><circle cx="300.5" cy="214.8" r="0.74"/><circle cx="301.4" cy="209.3" r="0.74"/><circle cx="300.6" cy="204.9" r="0.74"/><circle cx="300.9" cy="220.6" r="0.74"/><circle cx="299.8" cy="215.0" r="0.74"/><circle cx="300.9" cy="198.1" r="0.74"/><circle cx="297.7" cy="221.0" r="0.74"/><circle cx="298.9" cy="211.0" r="0.74"/><circle cx="297.1" cy="222.6" r="0.74"/><circle cx="299.5" cy="214.8" r="0.74"/><circle cx="301.5" cy="223.9" r="0.74"/><circle cx="299.5" cy="221.6" r="0.74"/><circle cx="300.4" cy="202.1" r="0.74"/><circle cx="297.8" cy="211.1" r="0.74"/><circle cx="297.7" cy="214.9" r="0.74"/><circle cx="300.6" cy="215.6" r="0.74"/><circle cx="297.2" cy="230.5" r="0.74"/><circle cx="298.8" cy="224.1" r="0.74"/><circle cx="299.6" cy="223.9" r="0.74"/><circle cx="299.0" cy="217.8" r="0.74"/><circle cx="298.3" cy="198.1" r="0.74"/><circle cx="296.8" cy="214.8" r="0.74"/><circle cx="296.7" cy="202.8" r="0.74"/><circle cx="296.6" cy="196.9" r="0.74"/><circle cx="300.5" cy="207.2" r="0.74"/><circle cx="299.4" cy="201.1" r="0.74"/><circle cx="296.2" cy="213.0" r="0.74"/><circle cx="300.3" cy="218.7" r="0.74"/><circle cx="298.0" cy="223.3" r="0.74"/><circle cx="297.0" cy="196.7" r="0.74"/><circle cx="301.0" cy="215.1" r="0.74"/><circle cx="299.2" cy="208.8" r="0.74"/><circle cx="298.2" cy="222.5" r="0.74"/><circle cx="296.4" cy="203.4" r="0.74"/><circle cx="301.3" cy="201.7" r="0.74"/><circle cx="298.5" cy="225.1" r="0.74"/><circle cx="296.3" cy="221.5" r="0.74"/><circle cx="301.1" cy="221.0" r="0.74"/><circle cx="301.0" cy="207.9" r="0.74"/><circle cx="300.5" cy="223.2" r="0.74"/><circle cx="301.3" cy="220.2" r="0.74"/><circle cx="298.8" cy="198.4" r="0.74"/><circle cx="298.2" cy="205.6" r="0.74"/><circle cx="300.0" cy="217.4" r="0.74"/><circle cx="300.8" cy="212.6" r="0.74"/><circle cx="298.7" cy="203.9" r="0.74"/><circle cx="297.0" cy="212.0" r="0.74"/><circle cx="298.0" cy="223.6" r="0.74"/><circle cx="297.7" cy="201.5" r="0.74"/><circle cx="299.0" cy="220.3" r="0.74"/><circle cx="298.2" cy="216.9" r="0.74"/><circle cx="296.8" cy="218.3" r="0.74"/><circle cx="300.6" cy="211.9" r="0.74"/><circle cx="297.1" cy="220.1" r="0.74"/><circle cx="297.6" cy="207.0" r="0.74"/><circle cx="299.7" cy="214.3" r="0.74"/><circle cx="297.9" cy="211.2" r="0.74"/><circle cx="296.6" cy="203.6" r="0.74"/><circle cx="297.6" cy="198.2" r="0.74"/><circle cx="298.5" cy="211.2" r="0.74"/><circle cx="300.6" cy="220.2" r="0.74"/><circle cx="298.0" cy="212.0" r="0.74"/><circle cx="300.0" cy="221.5" r="0.74"/><circle cx="297.2" cy="192.4" r="0.74"/><circle cx="297.3" cy="200.3" r="0.74"/><circle cx="298.5" cy="219.0" r="0.74"/><circle cx="297.5" cy="201.2" r="0.74"/><circle cx="301.0" cy="261.9" r="0.74"/><circle cx="298.1" cy="261.5" r="0.74"/><circle cx="299.4" cy="260.9" r="0.74"/><circle cx="300.9" cy="260.3" r="0.74"/><circle cx="298.9" cy="259.5" r="0.74"/><circle cx="297.5" cy="258.8" r="0.74"/><circle cx="298.2" cy="258.3" r="0.74"/><circle cx="299.2" cy="257.8" r="0.74"/><circle cx="298.2" cy="257.3" r="0.74"/><circle cx="297.0" cy="256.4" r="0.74"/><circle cx="297.8" cy="255.9" r="0.74"/><circle cx="296.6" cy="255.3" r="0.74"/><circle cx="298.0" cy="254.7" r="0.74"/><circle cx="297.7" cy="254.3" r="0.74"/><circle cx="297.7" cy="253.7" r="0.74"/><circle cx="296.7" cy="252.8" r="0.74"/><circle cx="297.6" cy="252.4" r="0.74"/><circle cx="301.1" cy="251.6" r="0.74"/><circle cx="300.9" cy="251.0" r="0.74"/><circle cx="296.7" cy="250.6" r="0.74"/><circle cx="296.2" cy="249.8" r="0.74"/><circle cx="299.7" cy="249.4" r="0.74"/><circle cx="298.3" cy="248.7" r="0.74"/><circle cx="299.9" cy="248.2" r="0.74"/><circle cx="300.7" cy="247.6" r="0.74"/><circle cx="299.5" cy="247.1" r="0.74"/><circle cx="296.6" cy="246.1" r="0.74"/><circle cx="300.1" cy="245.6" r="0.74"/><circle cx="296.2" cy="245.3" r="0.74"/><circle cx="296.9" cy="244.7" r="0.74"/><circle cx="297.7" cy="244.0" r="0.74"/><circle cx="296.2" cy="243.4" r="0.74"/><circle cx="299.6" cy="242.9" r="0.74"/><circle cx="300.7" cy="242.1" r="0.74"/><circle cx="300.0" cy="241.6" r="0.74"/><circle cx="298.4" cy="240.8" r="0.74"/><circle cx="298.0" cy="240.6" r="0.74"/><circle cx="300.7" cy="239.6" r="0.74"/><circle cx="297.6" cy="239.3" r="0.74"/><circle cx="300.8" cy="238.5" r="0.74"/><circle cx="296.3" cy="238.0" r="0.74"/><circle cx="296.6" cy="237.2" r="0.74"/><circle cx="297.2" cy="236.5" r="0.74"/><circle cx="300.2" cy="236.3" r="0.74"/><circle cx="299.9" cy="235.6" r="0.74"/><circle cx="300.2" cy="234.8" r="0.74"/><circle cx="297.6" cy="270.1" r="0.74"/><circle cx="301.3" cy="269.6" r="0.74"/><circle cx="301.2" cy="269.1" r="0.74"/><circle cx="300.1" cy="268.7" r="0.74"/><circle cx="299.5" cy="268.4" r="0.74"/><circle cx="296.3" cy="267.9" r="0.74"/><circle cx="298.4" cy="267.6" r="0.74"/><circle cx="301.2" cy="267.3" r="0.74"/><circle cx="300.3" cy="267.0" r="0.74"/><circle cx="299.9" cy="266.3" r="0.74"/><circle cx="297.5" cy="266.0" r="0.74"/><circle cx="301.4" cy="265.6" r="0.74"/><circle cx="299.0" cy="265.3" r="0.74"/><circle cx="296.3" cy="264.9" r="0.74"/><circle cx="298.3" cy="264.5" r="0.74"/><circle cx="297.7" cy="264.1" r="0.74"/><circle cx="300.0" cy="263.6" r="0.74"/><circle cx="297.3" cy="263.3" r="0.74"/><circle cx="298.9" cy="262.9" r="0.74"/><circle cx="301.2" cy="262.5" r="0.74"/><circle cx="299.3" cy="186.9" r="0.74"/><circle cx="299.8" cy="188.6" r="0.74"/><circle cx="324.4" cy="195.9" r="0.74"/><circle cx="323.1" cy="200.8" r="0.74"/><circle cx="325.4" cy="200.8" r="0.74"/><circle cx="326.6" cy="203.4" r="0.74"/><circle cx="324.4" cy="203.4" r="0.74"/><circle cx="325.4" cy="207.2" r="0.74"/><circle cx="324.4" cy="208.6" r="0.74"/><circle cx="323.1" cy="210.8" r="0.74"/><circle cx="324.0" cy="212.0" r="0.74"/><circle cx="325.4" cy="213.2" r="0.74"/><circle cx="326.6" cy="214.6" r="0.74"/><circle cx="325.7" cy="216.3" r="0.74"/><circle cx="324.4" cy="217.7" r="0.74"/><circle cx="326.6" cy="219.4" r="0.74"/><circle cx="324.0" cy="221.5" r="0.74"/><circle cx="323.7" cy="223.3" r="0.74"/><circle cx="324.4" cy="230.5" r="0.74"/><circle cx="324.5" cy="239.2" r="0.74"/><circle cx="324.9" cy="247.8" r="0.74"/><circle cx="323.1" cy="272.1" r="0.74"/><circle cx="324.9" cy="271.7" r="0.74"/><circle cx="326.3" cy="272.6" r="0.74"/><circle cx="325.0" cy="205.5" r="0.74"/><circle cx="323.6" cy="215.5" r="0.74"/><circle cx="325.5" cy="220.5" r="0.74"/><circle cx="323.0" cy="206.0" r="0.74"/><circle cx="326.8" cy="209.5" r="0.74"/><circle cx="325.9" cy="211.5" r="0.74"/></g>
<rect x="383.1" y="234.4" width="21.6" height="27.1" fill="#d9d9d9" stroke="none"/>
<rect x="383.1" y="253.68" width="21.6" height="0.9" fill="#b4b4b4" stroke="none"/>
<rect x="409.4" y="225.3" width="21.6" height="16.6" fill="#d9d9d9" stroke="none"/>
<rect x="409.4" y="231.79" width="21.6" height="0.9" fill="#b4b4b4" stroke="none"/>
<rect x="435.8" y="208.9" width="21.6" height="52.2" fill="#d9d9d9" stroke="none"/>
<rect x="435.8" y="241.22" width="21.6" height="0.9" fill="#b4b4b4" stroke="none"/>
<rect x="462.1" y="237.3" width="21.6" height="24.8" fill="#d9d9d9" stroke="none"/>
<rect x="462.1" y="260.17" width="21.6" height="0.9" fill="#b4b4b4" stroke="none"/>
<rect x="488.5" y="267.3" width="21.6" height="10.4" fill="#d9d9d9" stroke="none"/>
<rect x="488.5" y="274.06" width="21.6" height="0.9" fill="#b4b4b4" stroke="none"/>
<rect x="375.4" y="183.5" width="142.7" height="128.0" fill="none" stroke="#7c7c7c" stroke-width="0.5"/>
<line x1="372.9" y1="306.0" x2="375.4" y2="306.0" stroke="#909090" stroke-width="0.5"/>
<text transform="translate(367.7,306.7) rotate(-90) scale(0.92,1)" text-anchor="middle" font-size="6.2">0</text>
<line x1="372.9" y1="289.2" x2="375.4" y2="289.2" stroke="#909090" stroke-width="0.5"/>
<text transform="translate(367.7,289.9) rotate(-90) scale(0.92,1)" text-anchor="middle" font-size="6.2">2</text>
<line x1="372.9" y1="272.3" x2="375.4" y2="272.3" stroke="#909090" stroke-width="0.5"/>
<text transform="translate(367.7,273.0) rotate(-90) scale(0.92,1)" text-anchor="middle" font-size="6.2">4</text>
<line x1="372.9" y1="255.5" x2="375.4" y2="255.5" stroke="#909090" stroke-width="0.5"/>
<text transform="translate(367.7,256.2) rotate(-90) scale(0.92,1)" text-anchor="middle" font-size="6.2">6</text>
<line x1="372.9" y1="238.6" x2="375.4" y2="238.6" stroke="#909090" stroke-width="0.5"/>
<text transform="translate(367.7,239.3) rotate(-90) scale(0.92,1)" text-anchor="middle" font-size="6.2">8</text>
<line x1="372.9" y1="221.8" x2="375.4" y2="221.8" stroke="#909090" stroke-width="0.5"/>
<text transform="translate(367.1,222.8) rotate(-90) scale(0.92,1)" text-anchor="middle" font-size="6.2">10</text>
<line x1="372.9" y1="205.0" x2="375.4" y2="205.0" stroke="#909090" stroke-width="0.5"/>
<text transform="translate(367.1,206.0) rotate(-90) scale(0.92,1)" text-anchor="middle" font-size="6.2">12</text>
<line x1="372.9" y1="188.1" x2="375.4" y2="188.1" stroke="#909090" stroke-width="0.5"/>
<text transform="translate(367.1,189.1) rotate(-90) scale(0.92,1)" text-anchor="middle" font-size="6.2">14</text>
<line x1="393.9" y1="311.5" x2="393.9" y2="314.0" stroke="#909090" stroke-width="0.5"/>
<text transform="translate(395.1,324.9) scale(0.95,1)" text-anchor="middle" font-size="6.2" letter-spacing="0.1">MBC</text>
<line x1="420.2" y1="311.5" x2="420.2" y2="314.0" stroke="#909090" stroke-width="0.5"/>
<text transform="translate(421.4,324.9) scale(0.95,1)" text-anchor="middle" font-size="6.2" letter-spacing="0.1">BMPC</text>
<line x1="446.6" y1="311.5" x2="446.6" y2="314.0" stroke="#909090" stroke-width="0.5"/>
<text transform="translate(447.8,324.9) scale(0.95,1)" text-anchor="middle" font-size="6.2" letter-spacing="0.1">MGUS</text>
<line x1="472.9" y1="311.5" x2="472.9" y2="314.0" stroke="#909090" stroke-width="0.5"/>
<text transform="translate(474.1,324.9) scale(0.95,1)" text-anchor="middle" font-size="6.2" letter-spacing="0.1">MM</text>
<line x1="499.3" y1="311.5" x2="499.3" y2="314.0" stroke="#909090" stroke-width="0.5"/>
<text transform="translate(500.5,324.9) scale(0.95,1)" text-anchor="middle" font-size="6.2" letter-spacing="0.1">HMCL</text>
<text transform="translate(356.6,245.6) rotate(-90) scale(0.98,1)" text-anchor="middle" font-size="6.2">Exprs</text>
<text x="447.3" y="175.2" text-anchor="middle" font-size="7.5" fill="#000">PF4(206390_x_at)</text>
<g fill="#000" stroke="none"><circle cx="393.8" cy="232.2" r="0.74"/><circle cx="396.1" cy="233.9" r="0.74"/><circle cx="392.4" cy="247.5" r="0.74"/><circle cx="391.4" cy="261.0" r="0.74"/><circle cx="395.1" cy="261.5" r="0.74"/><circle cx="393.0" cy="261.3" r="0.74"/><circle cx="420.0" cy="214.4" r="0.74"/><circle cx="420.8" cy="222.5" r="0.74"/><circle cx="420.2" cy="228.8" r="0.74"/><circle cx="419.9" cy="232.1" r="0.74"/><circle cx="420.7" cy="247.5" r="0.74"/><circle cx="421.0" cy="238.5" r="0.74"/><circle cx="445.8" cy="196.2" r="0.74"/><circle cx="444.6" cy="198.0" r="0.74"/><circle cx="448.1" cy="200.0" r="0.74"/><circle cx="448.1" cy="220.5" r="0.74"/><circle cx="449.3" cy="222.2" r="0.74"/><circle cx="446.4" cy="237.8" r="0.74"/><circle cx="446.8" cy="245.6" r="0.74"/><circle cx="444.7" cy="251.1" r="0.74"/><circle cx="446.8" cy="251.1" r="0.74"/><circle cx="447.3" cy="260.8" r="0.74"/><circle cx="448.7" cy="261.5" r="0.74"/><circle cx="447.3" cy="267.2" r="0.74"/><circle cx="445.6" cy="270.1" r="0.74"/><circle cx="446.5" cy="268.8" r="0.74"/><circle cx="471.8" cy="260.2" r="0.74"/><circle cx="470.9" cy="261.7" r="0.74"/><circle cx="472.0" cy="260.5" r="0.74"/><circle cx="473.2" cy="260.8" r="0.74"/><circle cx="471.0" cy="261.2" r="0.74"/><circle cx="473.5" cy="262.2" r="0.74"/><circle cx="474.5" cy="260.5" r="0.74"/><circle cx="470.7" cy="263.0" r="0.74"/><circle cx="472.1" cy="263.4" r="0.74"/><circle cx="470.4" cy="263.0" r="0.74"/><circle cx="471.2" cy="261.1" r="0.74"/><circle cx="472.6" cy="263.8" r="0.74"/><circle cx="471.9" cy="262.2" r="0.74"/><circle cx="472.2" cy="263.5" r="0.74"/><circle cx="470.5" cy="264.3" r="0.74"/><circle cx="475.8" cy="260.8" r="0.74"/><circle cx="470.5" cy="261.0" r="0.74"/><circle cx="475.7" cy="261.7" r="0.74"/><circle cx="470.7" cy="262.1" r="0.74"/><circle cx="472.6" cy="263.4" r="0.74"/><circle cx="473.2" cy="264.3" r="0.74"/><circle cx="475.4" cy="261.3" r="0.74"/><circle cx="473.7" cy="260.0" r="0.74"/><circle cx="473.8" cy="263.2" r="0.74"/><circle cx="471.5" cy="263.7" r="0.74"/><circle cx="470.2" cy="260.7" r="0.74"/><circle cx="474.9" cy="262.9" r="0.74"/><circle cx="471.1" cy="261.4" r="0.74"/><circle cx="475.0" cy="260.0" r="0.74"/><circle cx="471.0" cy="260.7" r="0.74"/><circle cx="474.9" cy="260.9" r="0.74"/><circle cx="471.9" cy="263.5" r="0.74"/><circle cx="474.8" cy="262.8" r="0.74"/><circle cx="472.2" cy="261.8" r="0.74"/><circle cx="472.2" cy="260.5" r="0.74"/><circle cx="471.4" cy="264.1" r="0.74"/><circle cx="473.3" cy="261.4" r="0.74"/><circle cx="474.8" cy="261.1" r="0.74"/><circle cx="475.3" cy="259.9" r="0.74"/><circle cx="472.9" cy="262.0" r="0.74"/><circle cx="471.0" cy="262.9" r="0.74"/><circle cx="473.4" cy="263.9" r="0.74"/><circle cx="474.0" cy="263.6" r="0.74"/><circle cx="472.6" cy="259.8" r="0.74"/><circle cx="470.6" cy="264.1" r="0.74"/><circle cx="472.6" cy="263.4" r="0.74"/><circle cx="474.2" cy="264.3" r="0.74"/><circle cx="474.9" cy="260.4" r="0.74"/><circle cx="474.6" cy="262.4" r="0.74"/><circle cx="471.7" cy="261.3" r="0.74"/><circle cx="473.0" cy="259.5" r="0.74"/><circle cx="472.0" cy="259.0" r="0.74"/><circle cx="473.9" cy="258.4" r="0.74"/><circle cx="475.2" cy="258.2" r="0.74"/><circle cx="471.8" cy="257.7" r="0.74"/><circle cx="473.3" cy="257.2" r="0.74"/><circle cx="471.2" cy="256.9" r="0.74"/><circle cx="472.0" cy="256.3" r="0.74"/><circle cx="475.6" cy="255.7" r="0.74"/><circle cx="475.0" cy="255.2" r="0.74"/><circle cx="475.5" cy="254.8" r="0.74"/><circle cx="474.7" cy="254.6" r="0.74"/><circle cx="473.9" cy="253.9" r="0.74"/><circle cx="471.8" cy="253.5" r="0.74"/><circle cx="475.5" cy="253.1" r="0.74"/><circle cx="473.8" cy="252.7" r="0.74"/><circle cx="472.1" cy="252.0" r="0.74"/><circle cx="470.3" cy="251.8" r="0.74"/><circle cx="474.0" cy="251.3" r="0.74"/><circle cx="470.6" cy="250.7" r="0.74"/><circle cx="472.2" cy="250.3" r="0.74"/><circle cx="472.5" cy="249.9" r="0.74"/><circle cx="473.3" cy="249.4" r="0.74"/><circle cx="470.8" cy="249.1" r="0.74"/><circle cx="475.1" cy="248.5" r="0.74"/><circle cx="470.8" cy="247.9" r="0.74"/><circle cx="471.6" cy="247.7" r="0.74"/><circle cx="473.1" cy="247.2" r="0.74"/><circle cx="472.9" cy="246.6" r="0.74"/><circle cx="471.4" cy="246.2" r="0.74"/><circle cx="470.8" cy="245.7" r="0.74"/><circle cx="473.4" cy="245.4" r="0.74"/><circle cx="472.4" cy="245.0" r="0.74"/><circle cx="472.6" cy="244.2" r="0.74"/><circle cx="473.2" cy="243.8" r="0.74"/><circle cx="474.4" cy="243.6" r="0.74"/><circle cx="475.7" cy="242.9" r="0.74"/><circle cx="470.7" cy="242.4" r="0.74"/><circle cx="472.3" cy="242.2" r="0.74"/><circle cx="475.5" cy="241.6" r="0.74"/><circle cx="474.5" cy="241.3" r="0.74"/><circle cx="474.5" cy="240.9" r="0.74"/><circle cx="471.5" cy="240.3" r="0.74"/><circle cx="470.2" cy="239.8" r="0.74"/><circle cx="471.3" cy="239.4" r="0.74"/><circle cx="474.1" cy="238.9" r="0.74"/><circle cx="475.1" cy="238.4" r="0.74"/><circle cx="475.0" cy="238.0" r="0.74"/><circle cx="475.3" cy="237.4" r="0.74"/><circle cx="471.1" cy="237.0" r="0.74"/><circle cx="472.1" cy="236.5" r="0.74"/><circle cx="474.0" cy="236.0" r="0.74"/><circle cx="470.8" cy="235.7" r="0.74"/><circle cx="474.3" cy="235.1" r="0.74"/><circle cx="474.2" cy="234.9" r="0.74"/><circle cx="473.5" cy="234.5" r="0.74"/><circle cx="473.2" cy="233.8" r="0.74"/><circle cx="470.8" cy="233.3" r="0.74"/><circle cx="473.9" cy="233.0" r="0.74"/><circle cx="471.2" cy="232.5" r="0.74"/><circle cx="474.8" cy="232.0" r="0.74"/><circle cx="470.8" cy="231.8" r="0.74"/><circle cx="470.8" cy="231.0" r="0.74"/><circle cx="471.2" cy="230.6" r="0.74"/><circle cx="471.8" cy="230.1" r="0.74"/><circle cx="472.3" cy="229.9" r="0.74"/><circle cx="475.1" cy="229.3" r="0.74"/><circle cx="474.0" cy="228.7" r="0.74"/><circle cx="475.5" cy="228.6" r="0.74"/><circle cx="472.1" cy="228.1" r="0.74"/><circle cx="473.0" cy="227.3" r="0.74"/><circle cx="474.6" cy="227.2" r="0.74"/><circle cx="471.2" cy="226.4" r="0.74"/><circle cx="474.0" cy="226.1" r="0.74"/><circle cx="472.8" cy="225.8" r="0.74"/><circle cx="474.9" cy="225.2" r="0.74"/><circle cx="475.0" cy="224.7" r="0.74"/><circle cx="470.6" cy="224.3" r="0.74"/><circle cx="471.4" cy="223.7" r="0.74"/><circle cx="473.4" cy="223.5" r="0.74"/><circle cx="471.1" cy="222.9" r="0.74"/><circle cx="472.8" cy="222.4" r="0.74"/><circle cx="472.3" cy="222.0" r="0.74"/><circle cx="470.2" cy="221.5" r="0.74"/><circle cx="472.0" cy="221.2" r="0.74"/><circle cx="472.7" cy="220.4" r="0.74"/><circle cx="470.4" cy="220.3" r="0.74"/><circle cx="473.9" cy="219.8" r="0.74"/><circle cx="471.7" cy="219.2" r="0.74"/><circle cx="471.6" cy="218.8" r="0.74"/><circle cx="473.1" cy="218.2" r="0.74"/><circle cx="475.7" cy="218.0" r="0.74"/><circle cx="473.3" cy="217.3" r="0.74"/><circle cx="475.0" cy="216.9" r="0.74"/><circle cx="473.7" cy="216.4" r="0.74"/><circle cx="472.2" cy="216.1" r="0.74"/><circle cx="474.6" cy="215.4" r="0.74"/><circle cx="475.4" cy="215.1" r="0.74"/><circle cx="471.9" cy="214.6" r="0.74"/><circle cx="474.3" cy="214.2" r="0.74"/><circle cx="473.7" cy="213.8" r="0.74"/><circle cx="473.2" cy="213.3" r="0.74"/><circle cx="470.5" cy="212.9" r="0.74"/><circle cx="472.0" cy="212.2" r="0.74"/><circle cx="472.8" cy="212.0" r="0.74"/><circle cx="471.6" cy="278.1" r="0.74"/><circle cx="472.2" cy="277.8" r="0.74"/><circle cx="470.4" cy="277.2" r="0.74"/><circle cx="472.7" cy="277.0" r="0.74"/><circle cx="473.3" cy="276.7" r="0.74"/><circle cx="471.2" cy="276.4" r="0.74"/><circle cx="471.9" cy="276.0" r="0.74"/><circle cx="474.1" cy="275.6" r="0.74"/><circle cx="475.2" cy="275.3" r="0.74"/><circle cx="475.1" cy="274.9" r="0.74"/><circle cx="470.8" cy="274.7" r="0.74"/><circle cx="473.4" cy="274.1" r="0.74"/><circle cx="472.2" cy="273.8" r="0.74"/><circle cx="472.6" cy="273.4" r="0.74"/><circle cx="470.7" cy="273.2" r="0.74"/><circle cx="475.0" cy="272.9" r="0.74"/><circle cx="471.7" cy="272.6" r="0.74"/><circle cx="471.2" cy="272.2" r="0.74"/><circle cx="474.0" cy="271.9" r="0.74"/><circle cx="472.4" cy="271.5" r="0.74"/><circle cx="473.5" cy="271.0" r="0.74"/><circle cx="473.7" cy="270.8" r="0.74"/><circle cx="474.2" cy="270.3" r="0.74"/><circle cx="473.5" cy="270.2" r="0.74"/><circle cx="474.6" cy="269.6" r="0.74"/><circle cx="472.1" cy="269.5" r="0.74"/><circle cx="471.3" cy="269.0" r="0.74"/><circle cx="474.9" cy="268.6" r="0.74"/><circle cx="475.1" cy="268.4" r="0.74"/><circle cx="472.0" cy="267.9" r="0.74"/><circle cx="473.7" cy="267.6" r="0.74"/><circle cx="473.9" cy="267.3" r="0.74"/><circle cx="470.6" cy="266.9" r="0.74"/><circle cx="470.6" cy="266.5" r="0.74"/><circle cx="472.1" cy="266.2" r="0.74"/><circle cx="473.5" cy="266.0" r="0.74"/><circle cx="472.8" cy="265.7" r="0.74"/><circle cx="475.2" cy="265.2" r="0.74"/><circle cx="475.5" cy="265.0" r="0.74"/><circle cx="473.5" cy="264.4" r="0.74"/><circle cx="472.3" cy="211.5" r="0.74"/><circle cx="471.7" cy="210.0" r="0.74"/><circle cx="473.9" cy="208.6" r="0.74"/><circle cx="474.1" cy="206.9" r="0.74"/><circle cx="473.1" cy="205.3" r="0.74"/><circle cx="473.1" cy="203.8" r="0.74"/><circle cx="473.3" cy="202.8" r="0.74"/><circle cx="473.8" cy="201.4" r="0.74"/><circle cx="473.7" cy="199.5" r="0.74"/><circle cx="475.1" cy="194.9" r="0.74"/><circle cx="471.6" cy="197.4" r="0.74"/><circle cx="473.4" cy="286.6" r="0.74"/><circle cx="472.1" cy="281.6" r="0.74"/><circle cx="473.1" cy="284.1" r="0.74"/><circle cx="500.3" cy="265.6" r="0.74"/><circle cx="500.3" cy="260.9" r="0.74"/><circle cx="499.1" cy="265.8" r="0.74"/><circle cx="499.4" cy="261.2" r="0.74"/><circle cx="497.9" cy="267.6" r="0.74"/><circle cx="499.2" cy="263.2" r="0.74"/><circle cx="500.3" cy="265.2" r="0.74"/><circle cx="501.2" cy="266.1" r="0.74"/><circle cx="500.3" cy="267.1" r="0.74"/><circle cx="497.8" cy="276.3" r="0.74"/><circle cx="500.4" cy="274.6" r="0.74"/><circle cx="498.2" cy="276.1" r="0.74"/><circle cx="501.2" cy="275.3" r="0.74"/><circle cx="497.9" cy="276.1" r="0.74"/><circle cx="501.0" cy="272.7" r="0.74"/><circle cx="497.9" cy="276.8" r="0.74"/><circle cx="501.0" cy="275.8" r="0.74"/><circle cx="498.6" cy="274.6" r="0.74"/><circle cx="500.9" cy="275.4" r="0.74"/><circle cx="498.4" cy="274.8" r="0.74"/><circle cx="500.7" cy="272.8" r="0.74"/><circle cx="497.9" cy="273.6" r="0.74"/><circle cx="500.5" cy="274.0" r="0.74"/><circle cx="498.1" cy="272.9" r="0.74"/><circle cx="500.4" cy="274.3" r="0.74"/><circle cx="498.1" cy="272.7" r="0.74"/><circle cx="501.2" cy="274.0" r="0.74"/><circle cx="499.5" cy="270.6" r="0.74"/><circle cx="500.8" cy="269.8" r="0.74"/></g>
<text x="0.9" y="8.6" font-size="11.2" fill="#000" stroke-width="0.55">A</text>
<text x="-0.5" y="178.7" font-size="11.2" fill="#000" stroke-width="0.55">B</text>
</g></svg>
</body></html>
